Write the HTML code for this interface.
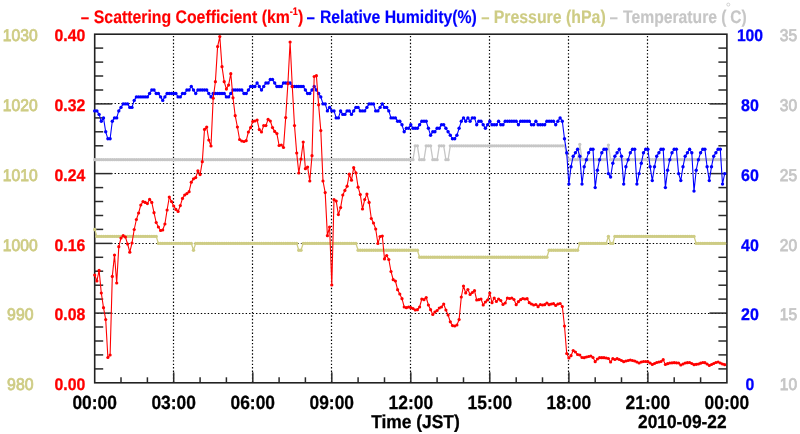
<!DOCTYPE html>
<html><head><meta charset="utf-8"><title>Chart</title>
<style>html,body{margin:0;padding:0;background:#fff;}body{width:800px;height:434px;overflow:hidden;position:relative;font-family:"Liberation Sans",sans-serif;}</style>
</head><body>
<svg width="800" height="434" viewBox="0 0 800 434" style="position:absolute;left:0;top:0;will-change:transform">
<rect x="0" y="0" width="800" height="434" fill="#fff"/>
<g stroke="#000" stroke-width="1.2" stroke-dasharray="1.4 2.05" fill="none"><line x1="173.5" y1="35.9" x2="173.5" y2="382.8"/><line x1="252.5" y1="35.9" x2="252.5" y2="382.8"/><line x1="331.5" y1="35.9" x2="331.5" y2="382.8"/><line x1="410.5" y1="35.9" x2="410.5" y2="382.8"/><line x1="489.5" y1="35.9" x2="489.5" y2="382.8"/><line x1="568.5" y1="35.9" x2="568.5" y2="382.8"/><line x1="647.5" y1="35.9" x2="647.5" y2="382.8"/><line x1="97.3" y1="313.5" x2="726.9" y2="313.5"/><line x1="97.3" y1="243.5" x2="726.9" y2="243.5"/><line x1="97.3" y1="173.5" x2="726.9" y2="173.5"/><line x1="97.3" y1="103.5" x2="726.9" y2="103.5"/></g>
<g stroke="#2a2a2a" stroke-width="1.5" fill="none"><line x1="121.0" y1="382.8" x2="121.0" y2="377.3"/><line x1="147.4" y1="382.8" x2="147.4" y2="377.3"/><line x1="173.7" y1="382.8" x2="173.7" y2="372.3"/><line x1="200.1" y1="382.8" x2="200.1" y2="377.3"/><line x1="226.4" y1="382.8" x2="226.4" y2="377.3"/><line x1="252.8" y1="382.8" x2="252.8" y2="372.3"/><line x1="279.1" y1="382.8" x2="279.1" y2="377.3"/><line x1="305.4" y1="382.8" x2="305.4" y2="377.3"/><line x1="331.8" y1="382.8" x2="331.8" y2="372.3"/><line x1="358.1" y1="382.8" x2="358.1" y2="377.3"/><line x1="384.5" y1="382.8" x2="384.5" y2="377.3"/><line x1="410.8" y1="382.8" x2="410.8" y2="372.3"/><line x1="437.1" y1="382.8" x2="437.1" y2="377.3"/><line x1="463.5" y1="382.8" x2="463.5" y2="377.3"/><line x1="489.8" y1="382.8" x2="489.8" y2="372.3"/><line x1="516.2" y1="382.8" x2="516.2" y2="377.3"/><line x1="542.5" y1="382.8" x2="542.5" y2="377.3"/><line x1="568.9" y1="382.8" x2="568.9" y2="372.3"/><line x1="595.2" y1="382.8" x2="595.2" y2="377.3"/><line x1="621.5" y1="382.8" x2="621.5" y2="377.3"/><line x1="647.9" y1="382.8" x2="647.9" y2="372.3"/><line x1="674.2" y1="382.8" x2="674.2" y2="377.3"/><line x1="700.6" y1="382.8" x2="700.6" y2="377.3"/><line x1="94.7" y1="368.9" x2="103.2" y2="368.9"/><line x1="726.9" y1="368.9" x2="718.4" y2="368.9"/><line x1="94.7" y1="354.9" x2="103.2" y2="354.9"/><line x1="726.9" y1="354.9" x2="718.4" y2="354.9"/><line x1="94.7" y1="341.0" x2="103.2" y2="341.0"/><line x1="726.9" y1="341.0" x2="718.4" y2="341.0"/><line x1="94.7" y1="327.0" x2="103.2" y2="327.0"/><line x1="726.9" y1="327.0" x2="718.4" y2="327.0"/><line x1="94.7" y1="313.1" x2="112.2" y2="313.1"/><line x1="726.9" y1="313.1" x2="709.4" y2="313.1"/><line x1="94.7" y1="299.1" x2="103.2" y2="299.1"/><line x1="726.9" y1="299.1" x2="718.4" y2="299.1"/><line x1="94.7" y1="285.2" x2="103.2" y2="285.2"/><line x1="726.9" y1="285.2" x2="718.4" y2="285.2"/><line x1="94.7" y1="271.2" x2="103.2" y2="271.2"/><line x1="726.9" y1="271.2" x2="718.4" y2="271.2"/><line x1="94.7" y1="257.3" x2="103.2" y2="257.3"/><line x1="726.9" y1="257.3" x2="718.4" y2="257.3"/><line x1="94.7" y1="243.4" x2="112.2" y2="243.4"/><line x1="726.9" y1="243.4" x2="709.4" y2="243.4"/><line x1="94.7" y1="229.4" x2="103.2" y2="229.4"/><line x1="726.9" y1="229.4" x2="718.4" y2="229.4"/><line x1="94.7" y1="215.5" x2="103.2" y2="215.5"/><line x1="726.9" y1="215.5" x2="718.4" y2="215.5"/><line x1="94.7" y1="201.5" x2="103.2" y2="201.5"/><line x1="726.9" y1="201.5" x2="718.4" y2="201.5"/><line x1="94.7" y1="187.6" x2="103.2" y2="187.6"/><line x1="726.9" y1="187.6" x2="718.4" y2="187.6"/><line x1="94.7" y1="173.6" x2="112.2" y2="173.6"/><line x1="726.9" y1="173.6" x2="709.4" y2="173.6"/><line x1="94.7" y1="159.7" x2="103.2" y2="159.7"/><line x1="726.9" y1="159.7" x2="718.4" y2="159.7"/><line x1="94.7" y1="145.8" x2="103.2" y2="145.8"/><line x1="726.9" y1="145.8" x2="718.4" y2="145.8"/><line x1="94.7" y1="131.8" x2="103.2" y2="131.8"/><line x1="726.9" y1="131.8" x2="718.4" y2="131.8"/><line x1="94.7" y1="117.9" x2="103.2" y2="117.9"/><line x1="726.9" y1="117.9" x2="718.4" y2="117.9"/><line x1="94.7" y1="103.9" x2="112.2" y2="103.9"/><line x1="726.9" y1="103.9" x2="709.4" y2="103.9"/><line x1="94.7" y1="90.0" x2="103.2" y2="90.0"/><line x1="726.9" y1="90.0" x2="718.4" y2="90.0"/><line x1="94.7" y1="76.0" x2="103.2" y2="76.0"/><line x1="726.9" y1="76.0" x2="718.4" y2="76.0"/><line x1="94.7" y1="62.1" x2="103.2" y2="62.1"/><line x1="726.9" y1="62.1" x2="718.4" y2="62.1"/><line x1="94.7" y1="48.1" x2="103.2" y2="48.1"/><line x1="726.9" y1="48.1" x2="718.4" y2="48.1"/></g>
<rect x="94.7" y="34.2" width="632.2" height="348.6" fill="none" stroke="#222" stroke-width="1.6"/>
<polyline points="94.7,159.7 96.9,159.7 99.1,159.7 101.3,159.7 103.5,159.7 105.7,159.7 107.9,159.7 110.1,159.7 112.3,159.7 114.5,159.7 116.7,159.7 118.8,159.7 121.0,159.7 123.2,159.7 125.4,159.7 127.6,159.7 129.8,159.7 132.0,159.7 134.2,159.7 136.4,159.7 138.6,159.7 140.8,159.7 143.0,159.7 145.2,159.7 147.4,159.7 149.6,159.7 151.8,159.7 154.0,159.7 156.2,159.7 158.4,159.7 160.6,159.7 162.7,159.7 164.9,159.7 167.1,159.7 169.3,159.7 171.5,159.7 173.7,159.7 175.9,159.7 178.1,159.7 180.3,159.7 182.5,159.7 184.7,159.7 186.9,159.7 189.1,159.7 191.3,159.7 193.5,159.7 195.7,159.7 197.9,159.7 200.1,159.7 202.3,159.7 204.5,159.7 206.7,159.7 208.8,159.7 211.0,159.7 213.2,159.7 215.4,159.7 217.6,159.7 219.8,159.7 222.0,159.7 224.2,159.7 226.4,159.7 228.6,159.7 230.8,159.7 233.0,159.7 235.2,159.7 237.4,159.7 239.6,159.7 241.8,159.7 244.0,159.7 246.2,159.7 248.4,159.7 250.6,159.7 252.8,159.7 254.9,159.7 257.1,159.7 259.3,159.7 261.5,159.7 263.7,159.7 265.9,159.7 268.1,159.7 270.3,159.7 272.5,159.7 274.7,159.7 276.9,159.7 279.1,159.7 281.3,159.7 283.5,159.7 285.7,159.7 287.9,159.7 290.1,159.7 292.3,159.7 294.5,159.7 296.7,159.7 298.8,159.7 301.0,159.7 303.2,159.7 305.4,159.7 307.6,159.7 309.8,159.7 312.0,159.7 314.2,159.7 316.4,159.7 318.6,159.7 320.8,159.7 323.0,159.7 325.2,159.7 327.4,159.7 329.6,159.7 331.8,159.7 334.0,159.7 336.2,159.7 338.4,159.7 340.6,159.7 342.8,159.7 344.9,159.7 347.1,159.7 349.3,159.7 351.5,159.7 353.7,159.7 355.9,159.7 358.1,159.7 360.3,159.7 362.5,159.7 364.7,159.7 366.9,159.7 369.1,159.7 371.3,159.7 373.5,159.7 375.7,159.7 377.9,159.7 380.1,159.7 382.3,159.7 384.5,159.7 386.7,159.7 388.8,159.7 391.0,159.7 393.2,159.7 395.4,159.7 397.6,159.7 399.8,159.7 402.0,159.7 404.2,159.7 406.4,159.7 408.6,159.7 410.8,159.7 413.0,159.7 415.2,145.8 417.4,145.8 419.6,159.7 421.8,159.7 424.0,159.7 426.2,145.8 428.4,145.8 430.6,145.8 432.8,159.7 434.9,159.7 437.1,159.7 439.3,145.8 441.5,145.8 443.7,145.8 445.9,159.7 448.1,159.7 450.3,145.8 452.5,145.8 454.7,145.8 456.9,145.8 459.1,145.8 461.3,145.8 463.5,145.8 465.7,145.8 467.9,145.8 470.1,145.8 472.3,145.8 474.5,145.8 476.7,145.8 478.8,145.8 481.0,145.8 483.2,145.8 485.4,145.8 487.6,145.8 489.8,145.8 492.0,145.8 494.2,145.8 496.4,145.8 498.6,145.8 500.8,145.8 503.0,145.8 505.2,145.8 507.4,145.8 509.6,145.8 511.8,145.8 514.0,145.8 516.2,145.8 518.4,145.8 520.6,145.8 522.8,145.8 524.9,145.8 527.1,145.8 529.3,145.8 531.5,145.8 533.7,145.8 535.9,145.8 538.1,145.8 540.3,145.8 542.5,145.8 544.7,145.8 546.9,145.8 549.1,145.8 551.3,145.8 553.5,145.8 555.7,145.8 557.9,145.8 560.1,145.8 562.3,145.8 564.5,145.8 566.7,154.1 568.9,159.7 571.0,159.7 573.2,159.7 575.4,159.7 577.6,159.7 579.8,144.4 582.0,159.7 584.2,159.7 586.4,159.7 588.6,159.7 590.8,159.7 593.0,159.7 595.2,159.7 597.4,159.7 599.6,159.7 601.8,159.7 604.0,159.7 606.2,159.7 608.4,145.1 610.6,159.7 612.8,159.7 614.9,159.7 617.1,159.7 619.3,159.7 621.5,159.7 623.7,159.7 625.9,159.7 628.1,159.7 630.3,159.7 632.5,159.7 634.7,159.7 636.9,159.7 639.1,159.7 641.3,159.7 643.5,159.7 645.7,159.7 647.9,159.7 650.1,159.7 652.3,159.7 654.5,159.7 656.7,159.7 658.9,159.7 661.0,159.7 663.2,159.7 665.4,159.7 667.6,159.7 669.8,159.7 672.0,159.7 674.2,159.7 676.4,159.7 678.6,159.7 680.8,159.7 683.0,159.7 685.2,159.7 687.4,159.7 689.6,159.7 691.8,159.7 694.0,159.7 696.2,159.7 698.4,159.7 700.6,159.7 702.8,159.7 704.9,159.7 707.1,159.7 709.3,159.7 711.5,159.7 713.7,159.7 715.9,159.7 718.1,159.7 720.3,159.7 722.5,159.7 724.7,159.7" fill="none" stroke="#c6c6c6" stroke-width="1.3" stroke-linejoin="round"/>
<g fill="#c6c6c6"><circle cx="94.7" cy="159.7" r="1.65"/><circle cx="96.9" cy="159.7" r="1.65"/><circle cx="99.1" cy="159.7" r="1.65"/><circle cx="101.3" cy="159.7" r="1.65"/><circle cx="103.5" cy="159.7" r="1.65"/><circle cx="105.7" cy="159.7" r="1.65"/><circle cx="107.9" cy="159.7" r="1.65"/><circle cx="110.1" cy="159.7" r="1.65"/><circle cx="112.3" cy="159.7" r="1.65"/><circle cx="114.5" cy="159.7" r="1.65"/><circle cx="116.7" cy="159.7" r="1.65"/><circle cx="118.8" cy="159.7" r="1.65"/><circle cx="121.0" cy="159.7" r="1.65"/><circle cx="123.2" cy="159.7" r="1.65"/><circle cx="125.4" cy="159.7" r="1.65"/><circle cx="127.6" cy="159.7" r="1.65"/><circle cx="129.8" cy="159.7" r="1.65"/><circle cx="132.0" cy="159.7" r="1.65"/><circle cx="134.2" cy="159.7" r="1.65"/><circle cx="136.4" cy="159.7" r="1.65"/><circle cx="138.6" cy="159.7" r="1.65"/><circle cx="140.8" cy="159.7" r="1.65"/><circle cx="143.0" cy="159.7" r="1.65"/><circle cx="145.2" cy="159.7" r="1.65"/><circle cx="147.4" cy="159.7" r="1.65"/><circle cx="149.6" cy="159.7" r="1.65"/><circle cx="151.8" cy="159.7" r="1.65"/><circle cx="154.0" cy="159.7" r="1.65"/><circle cx="156.2" cy="159.7" r="1.65"/><circle cx="158.4" cy="159.7" r="1.65"/><circle cx="160.6" cy="159.7" r="1.65"/><circle cx="162.7" cy="159.7" r="1.65"/><circle cx="164.9" cy="159.7" r="1.65"/><circle cx="167.1" cy="159.7" r="1.65"/><circle cx="169.3" cy="159.7" r="1.65"/><circle cx="171.5" cy="159.7" r="1.65"/><circle cx="173.7" cy="159.7" r="1.65"/><circle cx="175.9" cy="159.7" r="1.65"/><circle cx="178.1" cy="159.7" r="1.65"/><circle cx="180.3" cy="159.7" r="1.65"/><circle cx="182.5" cy="159.7" r="1.65"/><circle cx="184.7" cy="159.7" r="1.65"/><circle cx="186.9" cy="159.7" r="1.65"/><circle cx="189.1" cy="159.7" r="1.65"/><circle cx="191.3" cy="159.7" r="1.65"/><circle cx="193.5" cy="159.7" r="1.65"/><circle cx="195.7" cy="159.7" r="1.65"/><circle cx="197.9" cy="159.7" r="1.65"/><circle cx="200.1" cy="159.7" r="1.65"/><circle cx="202.3" cy="159.7" r="1.65"/><circle cx="204.5" cy="159.7" r="1.65"/><circle cx="206.7" cy="159.7" r="1.65"/><circle cx="208.8" cy="159.7" r="1.65"/><circle cx="211.0" cy="159.7" r="1.65"/><circle cx="213.2" cy="159.7" r="1.65"/><circle cx="215.4" cy="159.7" r="1.65"/><circle cx="217.6" cy="159.7" r="1.65"/><circle cx="219.8" cy="159.7" r="1.65"/><circle cx="222.0" cy="159.7" r="1.65"/><circle cx="224.2" cy="159.7" r="1.65"/><circle cx="226.4" cy="159.7" r="1.65"/><circle cx="228.6" cy="159.7" r="1.65"/><circle cx="230.8" cy="159.7" r="1.65"/><circle cx="233.0" cy="159.7" r="1.65"/><circle cx="235.2" cy="159.7" r="1.65"/><circle cx="237.4" cy="159.7" r="1.65"/><circle cx="239.6" cy="159.7" r="1.65"/><circle cx="241.8" cy="159.7" r="1.65"/><circle cx="244.0" cy="159.7" r="1.65"/><circle cx="246.2" cy="159.7" r="1.65"/><circle cx="248.4" cy="159.7" r="1.65"/><circle cx="250.6" cy="159.7" r="1.65"/><circle cx="252.8" cy="159.7" r="1.65"/><circle cx="254.9" cy="159.7" r="1.65"/><circle cx="257.1" cy="159.7" r="1.65"/><circle cx="259.3" cy="159.7" r="1.65"/><circle cx="261.5" cy="159.7" r="1.65"/><circle cx="263.7" cy="159.7" r="1.65"/><circle cx="265.9" cy="159.7" r="1.65"/><circle cx="268.1" cy="159.7" r="1.65"/><circle cx="270.3" cy="159.7" r="1.65"/><circle cx="272.5" cy="159.7" r="1.65"/><circle cx="274.7" cy="159.7" r="1.65"/><circle cx="276.9" cy="159.7" r="1.65"/><circle cx="279.1" cy="159.7" r="1.65"/><circle cx="281.3" cy="159.7" r="1.65"/><circle cx="283.5" cy="159.7" r="1.65"/><circle cx="285.7" cy="159.7" r="1.65"/><circle cx="287.9" cy="159.7" r="1.65"/><circle cx="290.1" cy="159.7" r="1.65"/><circle cx="292.3" cy="159.7" r="1.65"/><circle cx="294.5" cy="159.7" r="1.65"/><circle cx="296.7" cy="159.7" r="1.65"/><circle cx="298.8" cy="159.7" r="1.65"/><circle cx="301.0" cy="159.7" r="1.65"/><circle cx="303.2" cy="159.7" r="1.65"/><circle cx="305.4" cy="159.7" r="1.65"/><circle cx="307.6" cy="159.7" r="1.65"/><circle cx="309.8" cy="159.7" r="1.65"/><circle cx="312.0" cy="159.7" r="1.65"/><circle cx="314.2" cy="159.7" r="1.65"/><circle cx="316.4" cy="159.7" r="1.65"/><circle cx="318.6" cy="159.7" r="1.65"/><circle cx="320.8" cy="159.7" r="1.65"/><circle cx="323.0" cy="159.7" r="1.65"/><circle cx="325.2" cy="159.7" r="1.65"/><circle cx="327.4" cy="159.7" r="1.65"/><circle cx="329.6" cy="159.7" r="1.65"/><circle cx="331.8" cy="159.7" r="1.65"/><circle cx="334.0" cy="159.7" r="1.65"/><circle cx="336.2" cy="159.7" r="1.65"/><circle cx="338.4" cy="159.7" r="1.65"/><circle cx="340.6" cy="159.7" r="1.65"/><circle cx="342.8" cy="159.7" r="1.65"/><circle cx="344.9" cy="159.7" r="1.65"/><circle cx="347.1" cy="159.7" r="1.65"/><circle cx="349.3" cy="159.7" r="1.65"/><circle cx="351.5" cy="159.7" r="1.65"/><circle cx="353.7" cy="159.7" r="1.65"/><circle cx="355.9" cy="159.7" r="1.65"/><circle cx="358.1" cy="159.7" r="1.65"/><circle cx="360.3" cy="159.7" r="1.65"/><circle cx="362.5" cy="159.7" r="1.65"/><circle cx="364.7" cy="159.7" r="1.65"/><circle cx="366.9" cy="159.7" r="1.65"/><circle cx="369.1" cy="159.7" r="1.65"/><circle cx="371.3" cy="159.7" r="1.65"/><circle cx="373.5" cy="159.7" r="1.65"/><circle cx="375.7" cy="159.7" r="1.65"/><circle cx="377.9" cy="159.7" r="1.65"/><circle cx="380.1" cy="159.7" r="1.65"/><circle cx="382.3" cy="159.7" r="1.65"/><circle cx="384.5" cy="159.7" r="1.65"/><circle cx="386.7" cy="159.7" r="1.65"/><circle cx="388.8" cy="159.7" r="1.65"/><circle cx="391.0" cy="159.7" r="1.65"/><circle cx="393.2" cy="159.7" r="1.65"/><circle cx="395.4" cy="159.7" r="1.65"/><circle cx="397.6" cy="159.7" r="1.65"/><circle cx="399.8" cy="159.7" r="1.65"/><circle cx="402.0" cy="159.7" r="1.65"/><circle cx="404.2" cy="159.7" r="1.65"/><circle cx="406.4" cy="159.7" r="1.65"/><circle cx="408.6" cy="159.7" r="1.65"/><circle cx="410.8" cy="159.7" r="1.65"/><circle cx="413.0" cy="159.7" r="1.65"/><circle cx="415.2" cy="145.8" r="1.65"/><circle cx="417.4" cy="145.8" r="1.65"/><circle cx="419.6" cy="159.7" r="1.65"/><circle cx="421.8" cy="159.7" r="1.65"/><circle cx="424.0" cy="159.7" r="1.65"/><circle cx="426.2" cy="145.8" r="1.65"/><circle cx="428.4" cy="145.8" r="1.65"/><circle cx="430.6" cy="145.8" r="1.65"/><circle cx="432.8" cy="159.7" r="1.65"/><circle cx="434.9" cy="159.7" r="1.65"/><circle cx="437.1" cy="159.7" r="1.65"/><circle cx="439.3" cy="145.8" r="1.65"/><circle cx="441.5" cy="145.8" r="1.65"/><circle cx="443.7" cy="145.8" r="1.65"/><circle cx="445.9" cy="159.7" r="1.65"/><circle cx="448.1" cy="159.7" r="1.65"/><circle cx="450.3" cy="145.8" r="1.65"/><circle cx="452.5" cy="145.8" r="1.65"/><circle cx="454.7" cy="145.8" r="1.65"/><circle cx="456.9" cy="145.8" r="1.65"/><circle cx="459.1" cy="145.8" r="1.65"/><circle cx="461.3" cy="145.8" r="1.65"/><circle cx="463.5" cy="145.8" r="1.65"/><circle cx="465.7" cy="145.8" r="1.65"/><circle cx="467.9" cy="145.8" r="1.65"/><circle cx="470.1" cy="145.8" r="1.65"/><circle cx="472.3" cy="145.8" r="1.65"/><circle cx="474.5" cy="145.8" r="1.65"/><circle cx="476.7" cy="145.8" r="1.65"/><circle cx="478.8" cy="145.8" r="1.65"/><circle cx="481.0" cy="145.8" r="1.65"/><circle cx="483.2" cy="145.8" r="1.65"/><circle cx="485.4" cy="145.8" r="1.65"/><circle cx="487.6" cy="145.8" r="1.65"/><circle cx="489.8" cy="145.8" r="1.65"/><circle cx="492.0" cy="145.8" r="1.65"/><circle cx="494.2" cy="145.8" r="1.65"/><circle cx="496.4" cy="145.8" r="1.65"/><circle cx="498.6" cy="145.8" r="1.65"/><circle cx="500.8" cy="145.8" r="1.65"/><circle cx="503.0" cy="145.8" r="1.65"/><circle cx="505.2" cy="145.8" r="1.65"/><circle cx="507.4" cy="145.8" r="1.65"/><circle cx="509.6" cy="145.8" r="1.65"/><circle cx="511.8" cy="145.8" r="1.65"/><circle cx="514.0" cy="145.8" r="1.65"/><circle cx="516.2" cy="145.8" r="1.65"/><circle cx="518.4" cy="145.8" r="1.65"/><circle cx="520.6" cy="145.8" r="1.65"/><circle cx="522.8" cy="145.8" r="1.65"/><circle cx="524.9" cy="145.8" r="1.65"/><circle cx="527.1" cy="145.8" r="1.65"/><circle cx="529.3" cy="145.8" r="1.65"/><circle cx="531.5" cy="145.8" r="1.65"/><circle cx="533.7" cy="145.8" r="1.65"/><circle cx="535.9" cy="145.8" r="1.65"/><circle cx="538.1" cy="145.8" r="1.65"/><circle cx="540.3" cy="145.8" r="1.65"/><circle cx="542.5" cy="145.8" r="1.65"/><circle cx="544.7" cy="145.8" r="1.65"/><circle cx="546.9" cy="145.8" r="1.65"/><circle cx="549.1" cy="145.8" r="1.65"/><circle cx="551.3" cy="145.8" r="1.65"/><circle cx="553.5" cy="145.8" r="1.65"/><circle cx="555.7" cy="145.8" r="1.65"/><circle cx="557.9" cy="145.8" r="1.65"/><circle cx="560.1" cy="145.8" r="1.65"/><circle cx="562.3" cy="145.8" r="1.65"/><circle cx="564.5" cy="145.8" r="1.65"/><circle cx="566.7" cy="154.1" r="1.65"/><circle cx="568.9" cy="159.7" r="1.65"/><circle cx="571.0" cy="159.7" r="1.65"/><circle cx="573.2" cy="159.7" r="1.65"/><circle cx="575.4" cy="159.7" r="1.65"/><circle cx="577.6" cy="159.7" r="1.65"/><circle cx="579.8" cy="144.4" r="1.65"/><circle cx="582.0" cy="159.7" r="1.65"/><circle cx="584.2" cy="159.7" r="1.65"/><circle cx="586.4" cy="159.7" r="1.65"/><circle cx="588.6" cy="159.7" r="1.65"/><circle cx="590.8" cy="159.7" r="1.65"/><circle cx="593.0" cy="159.7" r="1.65"/><circle cx="595.2" cy="159.7" r="1.65"/><circle cx="597.4" cy="159.7" r="1.65"/><circle cx="599.6" cy="159.7" r="1.65"/><circle cx="601.8" cy="159.7" r="1.65"/><circle cx="604.0" cy="159.7" r="1.65"/><circle cx="606.2" cy="159.7" r="1.65"/><circle cx="608.4" cy="145.1" r="1.65"/><circle cx="610.6" cy="159.7" r="1.65"/><circle cx="612.8" cy="159.7" r="1.65"/><circle cx="614.9" cy="159.7" r="1.65"/><circle cx="617.1" cy="159.7" r="1.65"/><circle cx="619.3" cy="159.7" r="1.65"/><circle cx="621.5" cy="159.7" r="1.65"/><circle cx="623.7" cy="159.7" r="1.65"/><circle cx="625.9" cy="159.7" r="1.65"/><circle cx="628.1" cy="159.7" r="1.65"/><circle cx="630.3" cy="159.7" r="1.65"/><circle cx="632.5" cy="159.7" r="1.65"/><circle cx="634.7" cy="159.7" r="1.65"/><circle cx="636.9" cy="159.7" r="1.65"/><circle cx="639.1" cy="159.7" r="1.65"/><circle cx="641.3" cy="159.7" r="1.65"/><circle cx="643.5" cy="159.7" r="1.65"/><circle cx="645.7" cy="159.7" r="1.65"/><circle cx="647.9" cy="159.7" r="1.65"/><circle cx="650.1" cy="159.7" r="1.65"/><circle cx="652.3" cy="159.7" r="1.65"/><circle cx="654.5" cy="159.7" r="1.65"/><circle cx="656.7" cy="159.7" r="1.65"/><circle cx="658.9" cy="159.7" r="1.65"/><circle cx="661.0" cy="159.7" r="1.65"/><circle cx="663.2" cy="159.7" r="1.65"/><circle cx="665.4" cy="159.7" r="1.65"/><circle cx="667.6" cy="159.7" r="1.65"/><circle cx="669.8" cy="159.7" r="1.65"/><circle cx="672.0" cy="159.7" r="1.65"/><circle cx="674.2" cy="159.7" r="1.65"/><circle cx="676.4" cy="159.7" r="1.65"/><circle cx="678.6" cy="159.7" r="1.65"/><circle cx="680.8" cy="159.7" r="1.65"/><circle cx="683.0" cy="159.7" r="1.65"/><circle cx="685.2" cy="159.7" r="1.65"/><circle cx="687.4" cy="159.7" r="1.65"/><circle cx="689.6" cy="159.7" r="1.65"/><circle cx="691.8" cy="159.7" r="1.65"/><circle cx="694.0" cy="159.7" r="1.65"/><circle cx="696.2" cy="159.7" r="1.65"/><circle cx="698.4" cy="159.7" r="1.65"/><circle cx="700.6" cy="159.7" r="1.65"/><circle cx="702.8" cy="159.7" r="1.65"/><circle cx="704.9" cy="159.7" r="1.65"/><circle cx="707.1" cy="159.7" r="1.65"/><circle cx="709.3" cy="159.7" r="1.65"/><circle cx="711.5" cy="159.7" r="1.65"/><circle cx="713.7" cy="159.7" r="1.65"/><circle cx="715.9" cy="159.7" r="1.65"/><circle cx="718.1" cy="159.7" r="1.65"/><circle cx="720.3" cy="159.7" r="1.65"/><circle cx="722.5" cy="159.7" r="1.65"/><circle cx="724.7" cy="159.7" r="1.65"/></g>
<polyline points="94.7,229.4 96.9,236.4 99.1,236.4 101.3,236.4 103.5,236.4 105.7,236.4 107.9,236.4 110.1,236.4 112.3,236.4 114.5,236.4 116.7,236.4 118.8,236.4 121.0,236.4 123.2,236.4 125.4,236.4 127.6,236.4 129.8,236.4 132.0,236.4 134.2,236.4 136.4,236.4 138.6,236.4 140.8,236.4 143.0,236.4 145.2,236.4 147.4,236.4 149.6,236.4 151.8,236.4 154.0,236.4 156.2,236.4 158.4,243.4 160.6,243.4 162.7,243.4 164.9,243.4 167.1,243.4 169.3,243.4 171.5,243.4 173.7,243.4 175.9,243.4 178.1,243.4 180.3,243.4 182.5,243.4 184.7,243.4 186.9,243.4 189.1,243.4 191.3,243.4 193.5,250.3 195.7,243.4 197.9,243.4 200.1,243.4 202.3,243.4 204.5,243.4 206.7,243.4 208.8,243.4 211.0,243.4 213.2,243.4 215.4,243.4 217.6,243.4 219.8,243.4 222.0,243.4 224.2,243.4 226.4,243.4 228.6,243.4 230.8,243.4 233.0,243.4 235.2,243.4 237.4,243.4 239.6,243.4 241.8,243.4 244.0,243.4 246.2,243.4 248.4,243.4 250.6,243.4 252.8,243.4 254.9,243.4 257.1,243.4 259.3,243.4 261.5,243.4 263.7,243.4 265.9,243.4 268.1,243.4 270.3,243.4 272.5,243.4 274.7,243.4 276.9,243.4 279.1,243.4 281.3,243.4 283.5,243.4 285.7,243.4 287.9,243.4 290.1,243.4 292.3,243.4 294.5,243.4 296.7,243.4 298.8,250.3 301.0,250.3 303.2,243.4 305.4,243.4 307.6,243.4 309.8,243.4 312.0,243.4 314.2,243.4 316.4,243.4 318.6,243.4 320.8,243.4 323.0,243.4 325.2,243.4 327.4,243.4 329.6,243.4 331.8,243.4 334.0,243.4 336.2,243.4 338.4,243.4 340.6,243.4 342.8,243.4 344.9,243.4 347.1,243.4 349.3,243.4 351.5,243.4 353.7,243.4 355.9,243.4 358.1,250.3 360.3,250.3 362.5,250.3 364.7,250.3 366.9,250.3 369.1,250.3 371.3,250.3 373.5,250.3 375.7,250.3 377.9,250.3 380.1,250.3 382.3,250.3 384.5,250.3 386.7,250.3 388.8,250.3 391.0,250.3 393.2,250.3 395.4,250.3 397.6,250.3 399.8,250.3 402.0,250.3 404.2,250.3 406.4,250.3 408.6,250.3 410.8,250.3 413.0,250.3 415.2,250.3 417.4,250.3 419.6,257.3 421.8,257.3 424.0,257.3 426.2,257.3 428.4,257.3 430.6,257.3 432.8,257.3 434.9,257.3 437.1,257.3 439.3,257.3 441.5,257.3 443.7,257.3 445.9,257.3 448.1,257.3 450.3,257.3 452.5,257.3 454.7,257.3 456.9,257.3 459.1,257.3 461.3,257.3 463.5,257.3 465.7,257.3 467.9,257.3 470.1,257.3 472.3,257.3 474.5,257.3 476.7,257.3 478.8,257.3 481.0,257.3 483.2,257.3 485.4,257.3 487.6,257.3 489.8,257.3 492.0,257.3 494.2,257.3 496.4,257.3 498.6,257.3 500.8,257.3 503.0,257.3 505.2,257.3 507.4,257.3 509.6,257.3 511.8,257.3 514.0,257.3 516.2,257.3 518.4,257.3 520.6,257.3 522.8,257.3 524.9,257.3 527.1,257.3 529.3,257.3 531.5,257.3 533.7,257.3 535.9,257.3 538.1,257.3 540.3,257.3 542.5,257.3 544.7,257.3 546.9,257.3 549.1,250.3 551.3,250.3 553.5,250.3 555.7,250.3 557.9,250.3 560.1,250.3 562.3,250.3 564.5,250.3 566.7,250.3 568.9,250.3 571.0,250.3 573.2,250.3 575.4,250.3 577.6,250.3 579.8,243.4 582.0,243.4 584.2,243.4 586.4,243.4 588.6,243.4 590.8,243.4 593.0,243.4 595.2,243.4 597.4,243.4 599.6,243.4 601.8,243.4 604.0,243.4 606.2,243.4 608.4,236.4 610.6,243.4 612.8,243.4 614.9,236.4 617.1,236.4 619.3,236.4 621.5,236.4 623.7,236.4 625.9,236.4 628.1,236.4 630.3,236.4 632.5,236.4 634.7,236.4 636.9,236.4 639.1,236.4 641.3,236.4 643.5,236.4 645.7,236.4 647.9,236.4 650.1,236.4 652.3,236.4 654.5,236.4 656.7,236.4 658.9,236.4 661.0,236.4 663.2,236.4 665.4,236.4 667.6,236.4 669.8,236.4 672.0,236.4 674.2,236.4 676.4,236.4 678.6,236.4 680.8,236.4 683.0,236.4 685.2,236.4 687.4,236.4 689.6,236.4 691.8,236.4 694.0,236.4 696.2,243.4 698.4,243.4 700.6,243.4 702.8,243.4 704.9,243.4 707.1,243.4 709.3,243.4 711.5,243.4 713.7,243.4 715.9,243.4 718.1,243.4 720.3,243.4 722.5,243.4 724.7,243.4" fill="none" stroke="#cecc84" stroke-width="1.3" stroke-linejoin="round"/>
<g fill="#cecc84"><circle cx="94.7" cy="229.4" r="1.7"/><circle cx="96.9" cy="236.4" r="1.7"/><circle cx="99.1" cy="236.4" r="1.7"/><circle cx="101.3" cy="236.4" r="1.7"/><circle cx="103.5" cy="236.4" r="1.7"/><circle cx="105.7" cy="236.4" r="1.7"/><circle cx="107.9" cy="236.4" r="1.7"/><circle cx="110.1" cy="236.4" r="1.7"/><circle cx="112.3" cy="236.4" r="1.7"/><circle cx="114.5" cy="236.4" r="1.7"/><circle cx="116.7" cy="236.4" r="1.7"/><circle cx="118.8" cy="236.4" r="1.7"/><circle cx="121.0" cy="236.4" r="1.7"/><circle cx="123.2" cy="236.4" r="1.7"/><circle cx="125.4" cy="236.4" r="1.7"/><circle cx="127.6" cy="236.4" r="1.7"/><circle cx="129.8" cy="236.4" r="1.7"/><circle cx="132.0" cy="236.4" r="1.7"/><circle cx="134.2" cy="236.4" r="1.7"/><circle cx="136.4" cy="236.4" r="1.7"/><circle cx="138.6" cy="236.4" r="1.7"/><circle cx="140.8" cy="236.4" r="1.7"/><circle cx="143.0" cy="236.4" r="1.7"/><circle cx="145.2" cy="236.4" r="1.7"/><circle cx="147.4" cy="236.4" r="1.7"/><circle cx="149.6" cy="236.4" r="1.7"/><circle cx="151.8" cy="236.4" r="1.7"/><circle cx="154.0" cy="236.4" r="1.7"/><circle cx="156.2" cy="236.4" r="1.7"/><circle cx="158.4" cy="243.4" r="1.7"/><circle cx="160.6" cy="243.4" r="1.7"/><circle cx="162.7" cy="243.4" r="1.7"/><circle cx="164.9" cy="243.4" r="1.7"/><circle cx="167.1" cy="243.4" r="1.7"/><circle cx="169.3" cy="243.4" r="1.7"/><circle cx="171.5" cy="243.4" r="1.7"/><circle cx="173.7" cy="243.4" r="1.7"/><circle cx="175.9" cy="243.4" r="1.7"/><circle cx="178.1" cy="243.4" r="1.7"/><circle cx="180.3" cy="243.4" r="1.7"/><circle cx="182.5" cy="243.4" r="1.7"/><circle cx="184.7" cy="243.4" r="1.7"/><circle cx="186.9" cy="243.4" r="1.7"/><circle cx="189.1" cy="243.4" r="1.7"/><circle cx="191.3" cy="243.4" r="1.7"/><circle cx="193.5" cy="250.3" r="1.7"/><circle cx="195.7" cy="243.4" r="1.7"/><circle cx="197.9" cy="243.4" r="1.7"/><circle cx="200.1" cy="243.4" r="1.7"/><circle cx="202.3" cy="243.4" r="1.7"/><circle cx="204.5" cy="243.4" r="1.7"/><circle cx="206.7" cy="243.4" r="1.7"/><circle cx="208.8" cy="243.4" r="1.7"/><circle cx="211.0" cy="243.4" r="1.7"/><circle cx="213.2" cy="243.4" r="1.7"/><circle cx="215.4" cy="243.4" r="1.7"/><circle cx="217.6" cy="243.4" r="1.7"/><circle cx="219.8" cy="243.4" r="1.7"/><circle cx="222.0" cy="243.4" r="1.7"/><circle cx="224.2" cy="243.4" r="1.7"/><circle cx="226.4" cy="243.4" r="1.7"/><circle cx="228.6" cy="243.4" r="1.7"/><circle cx="230.8" cy="243.4" r="1.7"/><circle cx="233.0" cy="243.4" r="1.7"/><circle cx="235.2" cy="243.4" r="1.7"/><circle cx="237.4" cy="243.4" r="1.7"/><circle cx="239.6" cy="243.4" r="1.7"/><circle cx="241.8" cy="243.4" r="1.7"/><circle cx="244.0" cy="243.4" r="1.7"/><circle cx="246.2" cy="243.4" r="1.7"/><circle cx="248.4" cy="243.4" r="1.7"/><circle cx="250.6" cy="243.4" r="1.7"/><circle cx="252.8" cy="243.4" r="1.7"/><circle cx="254.9" cy="243.4" r="1.7"/><circle cx="257.1" cy="243.4" r="1.7"/><circle cx="259.3" cy="243.4" r="1.7"/><circle cx="261.5" cy="243.4" r="1.7"/><circle cx="263.7" cy="243.4" r="1.7"/><circle cx="265.9" cy="243.4" r="1.7"/><circle cx="268.1" cy="243.4" r="1.7"/><circle cx="270.3" cy="243.4" r="1.7"/><circle cx="272.5" cy="243.4" r="1.7"/><circle cx="274.7" cy="243.4" r="1.7"/><circle cx="276.9" cy="243.4" r="1.7"/><circle cx="279.1" cy="243.4" r="1.7"/><circle cx="281.3" cy="243.4" r="1.7"/><circle cx="283.5" cy="243.4" r="1.7"/><circle cx="285.7" cy="243.4" r="1.7"/><circle cx="287.9" cy="243.4" r="1.7"/><circle cx="290.1" cy="243.4" r="1.7"/><circle cx="292.3" cy="243.4" r="1.7"/><circle cx="294.5" cy="243.4" r="1.7"/><circle cx="296.7" cy="243.4" r="1.7"/><circle cx="298.8" cy="250.3" r="1.7"/><circle cx="301.0" cy="250.3" r="1.7"/><circle cx="303.2" cy="243.4" r="1.7"/><circle cx="305.4" cy="243.4" r="1.7"/><circle cx="307.6" cy="243.4" r="1.7"/><circle cx="309.8" cy="243.4" r="1.7"/><circle cx="312.0" cy="243.4" r="1.7"/><circle cx="314.2" cy="243.4" r="1.7"/><circle cx="316.4" cy="243.4" r="1.7"/><circle cx="318.6" cy="243.4" r="1.7"/><circle cx="320.8" cy="243.4" r="1.7"/><circle cx="323.0" cy="243.4" r="1.7"/><circle cx="325.2" cy="243.4" r="1.7"/><circle cx="327.4" cy="243.4" r="1.7"/><circle cx="329.6" cy="243.4" r="1.7"/><circle cx="331.8" cy="243.4" r="1.7"/><circle cx="334.0" cy="243.4" r="1.7"/><circle cx="336.2" cy="243.4" r="1.7"/><circle cx="338.4" cy="243.4" r="1.7"/><circle cx="340.6" cy="243.4" r="1.7"/><circle cx="342.8" cy="243.4" r="1.7"/><circle cx="344.9" cy="243.4" r="1.7"/><circle cx="347.1" cy="243.4" r="1.7"/><circle cx="349.3" cy="243.4" r="1.7"/><circle cx="351.5" cy="243.4" r="1.7"/><circle cx="353.7" cy="243.4" r="1.7"/><circle cx="355.9" cy="243.4" r="1.7"/><circle cx="358.1" cy="250.3" r="1.7"/><circle cx="360.3" cy="250.3" r="1.7"/><circle cx="362.5" cy="250.3" r="1.7"/><circle cx="364.7" cy="250.3" r="1.7"/><circle cx="366.9" cy="250.3" r="1.7"/><circle cx="369.1" cy="250.3" r="1.7"/><circle cx="371.3" cy="250.3" r="1.7"/><circle cx="373.5" cy="250.3" r="1.7"/><circle cx="375.7" cy="250.3" r="1.7"/><circle cx="377.9" cy="250.3" r="1.7"/><circle cx="380.1" cy="250.3" r="1.7"/><circle cx="382.3" cy="250.3" r="1.7"/><circle cx="384.5" cy="250.3" r="1.7"/><circle cx="386.7" cy="250.3" r="1.7"/><circle cx="388.8" cy="250.3" r="1.7"/><circle cx="391.0" cy="250.3" r="1.7"/><circle cx="393.2" cy="250.3" r="1.7"/><circle cx="395.4" cy="250.3" r="1.7"/><circle cx="397.6" cy="250.3" r="1.7"/><circle cx="399.8" cy="250.3" r="1.7"/><circle cx="402.0" cy="250.3" r="1.7"/><circle cx="404.2" cy="250.3" r="1.7"/><circle cx="406.4" cy="250.3" r="1.7"/><circle cx="408.6" cy="250.3" r="1.7"/><circle cx="410.8" cy="250.3" r="1.7"/><circle cx="413.0" cy="250.3" r="1.7"/><circle cx="415.2" cy="250.3" r="1.7"/><circle cx="417.4" cy="250.3" r="1.7"/><circle cx="419.6" cy="257.3" r="1.7"/><circle cx="421.8" cy="257.3" r="1.7"/><circle cx="424.0" cy="257.3" r="1.7"/><circle cx="426.2" cy="257.3" r="1.7"/><circle cx="428.4" cy="257.3" r="1.7"/><circle cx="430.6" cy="257.3" r="1.7"/><circle cx="432.8" cy="257.3" r="1.7"/><circle cx="434.9" cy="257.3" r="1.7"/><circle cx="437.1" cy="257.3" r="1.7"/><circle cx="439.3" cy="257.3" r="1.7"/><circle cx="441.5" cy="257.3" r="1.7"/><circle cx="443.7" cy="257.3" r="1.7"/><circle cx="445.9" cy="257.3" r="1.7"/><circle cx="448.1" cy="257.3" r="1.7"/><circle cx="450.3" cy="257.3" r="1.7"/><circle cx="452.5" cy="257.3" r="1.7"/><circle cx="454.7" cy="257.3" r="1.7"/><circle cx="456.9" cy="257.3" r="1.7"/><circle cx="459.1" cy="257.3" r="1.7"/><circle cx="461.3" cy="257.3" r="1.7"/><circle cx="463.5" cy="257.3" r="1.7"/><circle cx="465.7" cy="257.3" r="1.7"/><circle cx="467.9" cy="257.3" r="1.7"/><circle cx="470.1" cy="257.3" r="1.7"/><circle cx="472.3" cy="257.3" r="1.7"/><circle cx="474.5" cy="257.3" r="1.7"/><circle cx="476.7" cy="257.3" r="1.7"/><circle cx="478.8" cy="257.3" r="1.7"/><circle cx="481.0" cy="257.3" r="1.7"/><circle cx="483.2" cy="257.3" r="1.7"/><circle cx="485.4" cy="257.3" r="1.7"/><circle cx="487.6" cy="257.3" r="1.7"/><circle cx="489.8" cy="257.3" r="1.7"/><circle cx="492.0" cy="257.3" r="1.7"/><circle cx="494.2" cy="257.3" r="1.7"/><circle cx="496.4" cy="257.3" r="1.7"/><circle cx="498.6" cy="257.3" r="1.7"/><circle cx="500.8" cy="257.3" r="1.7"/><circle cx="503.0" cy="257.3" r="1.7"/><circle cx="505.2" cy="257.3" r="1.7"/><circle cx="507.4" cy="257.3" r="1.7"/><circle cx="509.6" cy="257.3" r="1.7"/><circle cx="511.8" cy="257.3" r="1.7"/><circle cx="514.0" cy="257.3" r="1.7"/><circle cx="516.2" cy="257.3" r="1.7"/><circle cx="518.4" cy="257.3" r="1.7"/><circle cx="520.6" cy="257.3" r="1.7"/><circle cx="522.8" cy="257.3" r="1.7"/><circle cx="524.9" cy="257.3" r="1.7"/><circle cx="527.1" cy="257.3" r="1.7"/><circle cx="529.3" cy="257.3" r="1.7"/><circle cx="531.5" cy="257.3" r="1.7"/><circle cx="533.7" cy="257.3" r="1.7"/><circle cx="535.9" cy="257.3" r="1.7"/><circle cx="538.1" cy="257.3" r="1.7"/><circle cx="540.3" cy="257.3" r="1.7"/><circle cx="542.5" cy="257.3" r="1.7"/><circle cx="544.7" cy="257.3" r="1.7"/><circle cx="546.9" cy="257.3" r="1.7"/><circle cx="549.1" cy="250.3" r="1.7"/><circle cx="551.3" cy="250.3" r="1.7"/><circle cx="553.5" cy="250.3" r="1.7"/><circle cx="555.7" cy="250.3" r="1.7"/><circle cx="557.9" cy="250.3" r="1.7"/><circle cx="560.1" cy="250.3" r="1.7"/><circle cx="562.3" cy="250.3" r="1.7"/><circle cx="564.5" cy="250.3" r="1.7"/><circle cx="566.7" cy="250.3" r="1.7"/><circle cx="568.9" cy="250.3" r="1.7"/><circle cx="571.0" cy="250.3" r="1.7"/><circle cx="573.2" cy="250.3" r="1.7"/><circle cx="575.4" cy="250.3" r="1.7"/><circle cx="577.6" cy="250.3" r="1.7"/><circle cx="579.8" cy="243.4" r="1.7"/><circle cx="582.0" cy="243.4" r="1.7"/><circle cx="584.2" cy="243.4" r="1.7"/><circle cx="586.4" cy="243.4" r="1.7"/><circle cx="588.6" cy="243.4" r="1.7"/><circle cx="590.8" cy="243.4" r="1.7"/><circle cx="593.0" cy="243.4" r="1.7"/><circle cx="595.2" cy="243.4" r="1.7"/><circle cx="597.4" cy="243.4" r="1.7"/><circle cx="599.6" cy="243.4" r="1.7"/><circle cx="601.8" cy="243.4" r="1.7"/><circle cx="604.0" cy="243.4" r="1.7"/><circle cx="606.2" cy="243.4" r="1.7"/><circle cx="608.4" cy="236.4" r="1.7"/><circle cx="610.6" cy="243.4" r="1.7"/><circle cx="612.8" cy="243.4" r="1.7"/><circle cx="614.9" cy="236.4" r="1.7"/><circle cx="617.1" cy="236.4" r="1.7"/><circle cx="619.3" cy="236.4" r="1.7"/><circle cx="621.5" cy="236.4" r="1.7"/><circle cx="623.7" cy="236.4" r="1.7"/><circle cx="625.9" cy="236.4" r="1.7"/><circle cx="628.1" cy="236.4" r="1.7"/><circle cx="630.3" cy="236.4" r="1.7"/><circle cx="632.5" cy="236.4" r="1.7"/><circle cx="634.7" cy="236.4" r="1.7"/><circle cx="636.9" cy="236.4" r="1.7"/><circle cx="639.1" cy="236.4" r="1.7"/><circle cx="641.3" cy="236.4" r="1.7"/><circle cx="643.5" cy="236.4" r="1.7"/><circle cx="645.7" cy="236.4" r="1.7"/><circle cx="647.9" cy="236.4" r="1.7"/><circle cx="650.1" cy="236.4" r="1.7"/><circle cx="652.3" cy="236.4" r="1.7"/><circle cx="654.5" cy="236.4" r="1.7"/><circle cx="656.7" cy="236.4" r="1.7"/><circle cx="658.9" cy="236.4" r="1.7"/><circle cx="661.0" cy="236.4" r="1.7"/><circle cx="663.2" cy="236.4" r="1.7"/><circle cx="665.4" cy="236.4" r="1.7"/><circle cx="667.6" cy="236.4" r="1.7"/><circle cx="669.8" cy="236.4" r="1.7"/><circle cx="672.0" cy="236.4" r="1.7"/><circle cx="674.2" cy="236.4" r="1.7"/><circle cx="676.4" cy="236.4" r="1.7"/><circle cx="678.6" cy="236.4" r="1.7"/><circle cx="680.8" cy="236.4" r="1.7"/><circle cx="683.0" cy="236.4" r="1.7"/><circle cx="685.2" cy="236.4" r="1.7"/><circle cx="687.4" cy="236.4" r="1.7"/><circle cx="689.6" cy="236.4" r="1.7"/><circle cx="691.8" cy="236.4" r="1.7"/><circle cx="694.0" cy="236.4" r="1.7"/><circle cx="696.2" cy="243.4" r="1.7"/><circle cx="698.4" cy="243.4" r="1.7"/><circle cx="700.6" cy="243.4" r="1.7"/><circle cx="702.8" cy="243.4" r="1.7"/><circle cx="704.9" cy="243.4" r="1.7"/><circle cx="707.1" cy="243.4" r="1.7"/><circle cx="709.3" cy="243.4" r="1.7"/><circle cx="711.5" cy="243.4" r="1.7"/><circle cx="713.7" cy="243.4" r="1.7"/><circle cx="715.9" cy="243.4" r="1.7"/><circle cx="718.1" cy="243.4" r="1.7"/><circle cx="720.3" cy="243.4" r="1.7"/><circle cx="722.5" cy="243.4" r="1.7"/><circle cx="724.7" cy="243.4" r="1.7"/></g>
<polyline points="94.7,110.9 96.9,110.9 99.1,114.4 101.3,121.3 103.5,117.9 105.7,131.8 107.9,138.8 110.1,138.8 112.3,121.3 114.5,117.9 116.7,117.9 118.8,110.9 121.0,107.4 123.2,103.9 125.4,103.9 127.6,103.9 129.8,107.4 132.0,107.4 134.2,100.4 136.4,96.9 138.6,96.9 140.8,96.9 143.0,96.9 145.2,96.9 147.4,96.9 149.6,93.5 151.8,90.0 154.0,90.0 156.2,93.5 158.4,93.5 160.6,96.9 162.7,100.4 164.9,96.9 167.1,93.5 169.3,93.5 171.5,93.5 173.7,93.5 175.9,93.5 178.1,96.9 180.3,96.9 182.5,93.5 184.7,93.5 186.9,90.0 189.1,90.0 191.3,86.5 193.5,90.0 195.7,93.5 197.9,90.0 200.1,90.0 202.3,90.0 204.5,90.0 206.7,90.0 208.8,93.5 211.0,96.9 213.2,93.5 215.4,93.5 217.6,93.5 219.8,93.5 222.0,93.5 224.2,93.5 226.4,96.9 228.6,96.9 230.8,93.5 233.0,90.0 235.2,90.0 237.4,90.0 239.6,90.0 241.8,90.0 244.0,93.5 246.2,93.5 248.4,90.0 250.6,86.5 252.8,86.5 254.9,86.5 257.1,83.0 259.3,86.5 261.5,90.0 263.7,86.5 265.9,83.0 268.1,83.0 270.3,79.5 272.5,79.5 274.7,83.0 276.9,86.5 279.1,86.5 281.3,86.5 283.5,83.0 285.7,83.0 287.9,83.0 290.1,83.0 292.3,86.5 294.5,86.5 296.7,86.5 298.8,86.5 301.0,86.5 303.2,86.5 305.4,90.0 307.6,93.5 309.8,93.5 312.0,90.0 314.2,86.5 316.4,90.0 318.6,93.5 320.8,96.9 323.0,103.9 325.2,103.9 327.4,110.9 329.6,107.4 331.8,110.9 334.0,110.9 336.2,117.9 338.4,117.9 340.6,110.9 342.8,114.4 344.9,114.4 347.1,110.9 349.3,110.9 351.5,114.4 353.7,110.9 355.9,107.4 358.1,107.4 360.3,110.9 362.5,110.9 364.7,110.9 366.9,107.4 369.1,103.9 371.3,103.9 373.5,103.9 375.7,110.9 377.9,110.9 380.1,107.4 382.3,103.9 384.5,107.4 386.7,107.4 388.8,110.9 391.0,117.9 393.2,117.9 395.4,117.9 397.6,121.3 399.8,121.3 402.0,124.8 404.2,131.8 406.4,128.3 408.6,128.3 410.8,124.8 413.0,128.3 415.2,128.3 417.4,128.3 419.6,124.8 421.8,121.3 424.0,121.3 426.2,121.3 428.4,128.3 430.6,135.3 432.8,131.8 434.9,131.8 437.1,128.3 439.3,128.3 441.5,124.8 443.7,124.8 445.9,128.3 448.1,131.8 450.3,135.3 452.5,138.8 454.7,138.8 456.9,135.3 459.1,128.3 461.3,121.3 463.5,117.9 465.7,121.3 467.9,117.9 470.1,121.3 472.3,117.9 474.5,117.9 476.7,124.8 478.8,121.3 481.0,121.3 483.2,124.8 485.4,128.3 487.6,124.8 489.8,121.3 492.0,124.8 494.2,124.8 496.4,124.8 498.6,121.3 500.8,124.8 503.0,124.8 505.2,121.3 507.4,121.3 509.6,121.3 511.8,121.3 514.0,121.3 516.2,121.3 518.4,124.8 520.6,121.3 522.8,121.3 524.9,121.3 527.1,121.3 529.3,121.3 531.5,124.8 533.7,124.8 535.9,121.3 538.1,124.8 540.3,124.8 542.5,124.8 544.7,124.8 546.9,121.3 549.1,121.3 551.3,121.3 553.5,121.3 555.7,124.8 557.9,121.3 560.1,117.9 562.3,121.3 564.5,138.8 566.7,152.7 568.9,184.1 571.0,166.7 573.2,156.2 575.4,152.7 577.6,149.2 579.8,156.2 582.0,184.1 584.2,166.7 586.4,159.7 588.6,152.7 590.8,149.2 593.0,149.2 595.2,187.6 597.4,170.2 599.6,159.7 601.8,152.7 604.0,149.2 606.2,149.2 608.4,173.6 610.6,177.1 612.8,163.2 614.9,156.2 617.1,152.7 619.3,149.2 621.5,156.2 623.7,184.1 625.9,166.7 628.1,159.7 630.3,152.7 632.5,149.2 634.7,149.2 636.9,184.1 639.1,173.6 641.3,163.2 643.5,152.7 645.7,149.2 647.9,149.2 650.1,166.7 652.3,180.6 654.5,166.7 656.7,156.2 658.9,152.7 661.0,149.2 663.2,149.2 665.4,187.6 667.6,170.2 669.8,159.7 672.0,152.7 674.2,149.2 676.4,149.2 678.6,173.6 680.8,180.6 683.0,166.7 685.2,156.2 687.4,152.7 689.6,149.2 691.8,152.7 694.0,191.1 696.2,170.2 698.4,159.7 700.6,152.7 702.8,149.2 704.9,149.2 707.1,166.7 709.3,180.6 711.5,166.7 713.7,156.2 715.9,152.7 718.1,149.2 720.3,149.2 722.5,184.1 724.7,173.6" fill="none" stroke="#0000ff" stroke-width="1.1" stroke-linejoin="round"/>
<g fill="#0000ff"><circle cx="94.7" cy="110.9" r="1.7"/><circle cx="96.9" cy="110.9" r="1.7"/><circle cx="99.1" cy="114.4" r="1.7"/><circle cx="101.3" cy="121.3" r="1.7"/><circle cx="103.5" cy="117.9" r="1.7"/><circle cx="105.7" cy="131.8" r="1.7"/><circle cx="107.9" cy="138.8" r="1.7"/><circle cx="110.1" cy="138.8" r="1.7"/><circle cx="112.3" cy="121.3" r="1.7"/><circle cx="114.5" cy="117.9" r="1.7"/><circle cx="116.7" cy="117.9" r="1.7"/><circle cx="118.8" cy="110.9" r="1.7"/><circle cx="121.0" cy="107.4" r="1.7"/><circle cx="123.2" cy="103.9" r="1.7"/><circle cx="125.4" cy="103.9" r="1.7"/><circle cx="127.6" cy="103.9" r="1.7"/><circle cx="129.8" cy="107.4" r="1.7"/><circle cx="132.0" cy="107.4" r="1.7"/><circle cx="134.2" cy="100.4" r="1.7"/><circle cx="136.4" cy="96.9" r="1.7"/><circle cx="138.6" cy="96.9" r="1.7"/><circle cx="140.8" cy="96.9" r="1.7"/><circle cx="143.0" cy="96.9" r="1.7"/><circle cx="145.2" cy="96.9" r="1.7"/><circle cx="147.4" cy="96.9" r="1.7"/><circle cx="149.6" cy="93.5" r="1.7"/><circle cx="151.8" cy="90.0" r="1.7"/><circle cx="154.0" cy="90.0" r="1.7"/><circle cx="156.2" cy="93.5" r="1.7"/><circle cx="158.4" cy="93.5" r="1.7"/><circle cx="160.6" cy="96.9" r="1.7"/><circle cx="162.7" cy="100.4" r="1.7"/><circle cx="164.9" cy="96.9" r="1.7"/><circle cx="167.1" cy="93.5" r="1.7"/><circle cx="169.3" cy="93.5" r="1.7"/><circle cx="171.5" cy="93.5" r="1.7"/><circle cx="173.7" cy="93.5" r="1.7"/><circle cx="175.9" cy="93.5" r="1.7"/><circle cx="178.1" cy="96.9" r="1.7"/><circle cx="180.3" cy="96.9" r="1.7"/><circle cx="182.5" cy="93.5" r="1.7"/><circle cx="184.7" cy="93.5" r="1.7"/><circle cx="186.9" cy="90.0" r="1.7"/><circle cx="189.1" cy="90.0" r="1.7"/><circle cx="191.3" cy="86.5" r="1.7"/><circle cx="193.5" cy="90.0" r="1.7"/><circle cx="195.7" cy="93.5" r="1.7"/><circle cx="197.9" cy="90.0" r="1.7"/><circle cx="200.1" cy="90.0" r="1.7"/><circle cx="202.3" cy="90.0" r="1.7"/><circle cx="204.5" cy="90.0" r="1.7"/><circle cx="206.7" cy="90.0" r="1.7"/><circle cx="208.8" cy="93.5" r="1.7"/><circle cx="211.0" cy="96.9" r="1.7"/><circle cx="213.2" cy="93.5" r="1.7"/><circle cx="215.4" cy="93.5" r="1.7"/><circle cx="217.6" cy="93.5" r="1.7"/><circle cx="219.8" cy="93.5" r="1.7"/><circle cx="222.0" cy="93.5" r="1.7"/><circle cx="224.2" cy="93.5" r="1.7"/><circle cx="226.4" cy="96.9" r="1.7"/><circle cx="228.6" cy="96.9" r="1.7"/><circle cx="230.8" cy="93.5" r="1.7"/><circle cx="233.0" cy="90.0" r="1.7"/><circle cx="235.2" cy="90.0" r="1.7"/><circle cx="237.4" cy="90.0" r="1.7"/><circle cx="239.6" cy="90.0" r="1.7"/><circle cx="241.8" cy="90.0" r="1.7"/><circle cx="244.0" cy="93.5" r="1.7"/><circle cx="246.2" cy="93.5" r="1.7"/><circle cx="248.4" cy="90.0" r="1.7"/><circle cx="250.6" cy="86.5" r="1.7"/><circle cx="252.8" cy="86.5" r="1.7"/><circle cx="254.9" cy="86.5" r="1.7"/><circle cx="257.1" cy="83.0" r="1.7"/><circle cx="259.3" cy="86.5" r="1.7"/><circle cx="261.5" cy="90.0" r="1.7"/><circle cx="263.7" cy="86.5" r="1.7"/><circle cx="265.9" cy="83.0" r="1.7"/><circle cx="268.1" cy="83.0" r="1.7"/><circle cx="270.3" cy="79.5" r="1.7"/><circle cx="272.5" cy="79.5" r="1.7"/><circle cx="274.7" cy="83.0" r="1.7"/><circle cx="276.9" cy="86.5" r="1.7"/><circle cx="279.1" cy="86.5" r="1.7"/><circle cx="281.3" cy="86.5" r="1.7"/><circle cx="283.5" cy="83.0" r="1.7"/><circle cx="285.7" cy="83.0" r="1.7"/><circle cx="287.9" cy="83.0" r="1.7"/><circle cx="290.1" cy="83.0" r="1.7"/><circle cx="292.3" cy="86.5" r="1.7"/><circle cx="294.5" cy="86.5" r="1.7"/><circle cx="296.7" cy="86.5" r="1.7"/><circle cx="298.8" cy="86.5" r="1.7"/><circle cx="301.0" cy="86.5" r="1.7"/><circle cx="303.2" cy="86.5" r="1.7"/><circle cx="305.4" cy="90.0" r="1.7"/><circle cx="307.6" cy="93.5" r="1.7"/><circle cx="309.8" cy="93.5" r="1.7"/><circle cx="312.0" cy="90.0" r="1.7"/><circle cx="314.2" cy="86.5" r="1.7"/><circle cx="316.4" cy="90.0" r="1.7"/><circle cx="318.6" cy="93.5" r="1.7"/><circle cx="320.8" cy="96.9" r="1.7"/><circle cx="323.0" cy="103.9" r="1.7"/><circle cx="325.2" cy="103.9" r="1.7"/><circle cx="327.4" cy="110.9" r="1.7"/><circle cx="329.6" cy="107.4" r="1.7"/><circle cx="331.8" cy="110.9" r="1.7"/><circle cx="334.0" cy="110.9" r="1.7"/><circle cx="336.2" cy="117.9" r="1.7"/><circle cx="338.4" cy="117.9" r="1.7"/><circle cx="340.6" cy="110.9" r="1.7"/><circle cx="342.8" cy="114.4" r="1.7"/><circle cx="344.9" cy="114.4" r="1.7"/><circle cx="347.1" cy="110.9" r="1.7"/><circle cx="349.3" cy="110.9" r="1.7"/><circle cx="351.5" cy="114.4" r="1.7"/><circle cx="353.7" cy="110.9" r="1.7"/><circle cx="355.9" cy="107.4" r="1.7"/><circle cx="358.1" cy="107.4" r="1.7"/><circle cx="360.3" cy="110.9" r="1.7"/><circle cx="362.5" cy="110.9" r="1.7"/><circle cx="364.7" cy="110.9" r="1.7"/><circle cx="366.9" cy="107.4" r="1.7"/><circle cx="369.1" cy="103.9" r="1.7"/><circle cx="371.3" cy="103.9" r="1.7"/><circle cx="373.5" cy="103.9" r="1.7"/><circle cx="375.7" cy="110.9" r="1.7"/><circle cx="377.9" cy="110.9" r="1.7"/><circle cx="380.1" cy="107.4" r="1.7"/><circle cx="382.3" cy="103.9" r="1.7"/><circle cx="384.5" cy="107.4" r="1.7"/><circle cx="386.7" cy="107.4" r="1.7"/><circle cx="388.8" cy="110.9" r="1.7"/><circle cx="391.0" cy="117.9" r="1.7"/><circle cx="393.2" cy="117.9" r="1.7"/><circle cx="395.4" cy="117.9" r="1.7"/><circle cx="397.6" cy="121.3" r="1.7"/><circle cx="399.8" cy="121.3" r="1.7"/><circle cx="402.0" cy="124.8" r="1.7"/><circle cx="404.2" cy="131.8" r="1.7"/><circle cx="406.4" cy="128.3" r="1.7"/><circle cx="408.6" cy="128.3" r="1.7"/><circle cx="410.8" cy="124.8" r="1.7"/><circle cx="413.0" cy="128.3" r="1.7"/><circle cx="415.2" cy="128.3" r="1.7"/><circle cx="417.4" cy="128.3" r="1.7"/><circle cx="419.6" cy="124.8" r="1.7"/><circle cx="421.8" cy="121.3" r="1.7"/><circle cx="424.0" cy="121.3" r="1.7"/><circle cx="426.2" cy="121.3" r="1.7"/><circle cx="428.4" cy="128.3" r="1.7"/><circle cx="430.6" cy="135.3" r="1.7"/><circle cx="432.8" cy="131.8" r="1.7"/><circle cx="434.9" cy="131.8" r="1.7"/><circle cx="437.1" cy="128.3" r="1.7"/><circle cx="439.3" cy="128.3" r="1.7"/><circle cx="441.5" cy="124.8" r="1.7"/><circle cx="443.7" cy="124.8" r="1.7"/><circle cx="445.9" cy="128.3" r="1.7"/><circle cx="448.1" cy="131.8" r="1.7"/><circle cx="450.3" cy="135.3" r="1.7"/><circle cx="452.5" cy="138.8" r="1.7"/><circle cx="454.7" cy="138.8" r="1.7"/><circle cx="456.9" cy="135.3" r="1.7"/><circle cx="459.1" cy="128.3" r="1.7"/><circle cx="461.3" cy="121.3" r="1.7"/><circle cx="463.5" cy="117.9" r="1.7"/><circle cx="465.7" cy="121.3" r="1.7"/><circle cx="467.9" cy="117.9" r="1.7"/><circle cx="470.1" cy="121.3" r="1.7"/><circle cx="472.3" cy="117.9" r="1.7"/><circle cx="474.5" cy="117.9" r="1.7"/><circle cx="476.7" cy="124.8" r="1.7"/><circle cx="478.8" cy="121.3" r="1.7"/><circle cx="481.0" cy="121.3" r="1.7"/><circle cx="483.2" cy="124.8" r="1.7"/><circle cx="485.4" cy="128.3" r="1.7"/><circle cx="487.6" cy="124.8" r="1.7"/><circle cx="489.8" cy="121.3" r="1.7"/><circle cx="492.0" cy="124.8" r="1.7"/><circle cx="494.2" cy="124.8" r="1.7"/><circle cx="496.4" cy="124.8" r="1.7"/><circle cx="498.6" cy="121.3" r="1.7"/><circle cx="500.8" cy="124.8" r="1.7"/><circle cx="503.0" cy="124.8" r="1.7"/><circle cx="505.2" cy="121.3" r="1.7"/><circle cx="507.4" cy="121.3" r="1.7"/><circle cx="509.6" cy="121.3" r="1.7"/><circle cx="511.8" cy="121.3" r="1.7"/><circle cx="514.0" cy="121.3" r="1.7"/><circle cx="516.2" cy="121.3" r="1.7"/><circle cx="518.4" cy="124.8" r="1.7"/><circle cx="520.6" cy="121.3" r="1.7"/><circle cx="522.8" cy="121.3" r="1.7"/><circle cx="524.9" cy="121.3" r="1.7"/><circle cx="527.1" cy="121.3" r="1.7"/><circle cx="529.3" cy="121.3" r="1.7"/><circle cx="531.5" cy="124.8" r="1.7"/><circle cx="533.7" cy="124.8" r="1.7"/><circle cx="535.9" cy="121.3" r="1.7"/><circle cx="538.1" cy="124.8" r="1.7"/><circle cx="540.3" cy="124.8" r="1.7"/><circle cx="542.5" cy="124.8" r="1.7"/><circle cx="544.7" cy="124.8" r="1.7"/><circle cx="546.9" cy="121.3" r="1.7"/><circle cx="549.1" cy="121.3" r="1.7"/><circle cx="551.3" cy="121.3" r="1.7"/><circle cx="553.5" cy="121.3" r="1.7"/><circle cx="555.7" cy="124.8" r="1.7"/><circle cx="557.9" cy="121.3" r="1.7"/><circle cx="560.1" cy="117.9" r="1.7"/><circle cx="562.3" cy="121.3" r="1.7"/><circle cx="564.5" cy="138.8" r="1.7"/><circle cx="566.7" cy="152.7" r="1.7"/><circle cx="568.9" cy="184.1" r="1.7"/><circle cx="571.0" cy="166.7" r="1.7"/><circle cx="573.2" cy="156.2" r="1.7"/><circle cx="575.4" cy="152.7" r="1.7"/><circle cx="577.6" cy="149.2" r="1.7"/><circle cx="579.8" cy="156.2" r="1.7"/><circle cx="582.0" cy="184.1" r="1.7"/><circle cx="584.2" cy="166.7" r="1.7"/><circle cx="586.4" cy="159.7" r="1.7"/><circle cx="588.6" cy="152.7" r="1.7"/><circle cx="590.8" cy="149.2" r="1.7"/><circle cx="593.0" cy="149.2" r="1.7"/><circle cx="595.2" cy="187.6" r="1.7"/><circle cx="597.4" cy="170.2" r="1.7"/><circle cx="599.6" cy="159.7" r="1.7"/><circle cx="601.8" cy="152.7" r="1.7"/><circle cx="604.0" cy="149.2" r="1.7"/><circle cx="606.2" cy="149.2" r="1.7"/><circle cx="608.4" cy="173.6" r="1.7"/><circle cx="610.6" cy="177.1" r="1.7"/><circle cx="612.8" cy="163.2" r="1.7"/><circle cx="614.9" cy="156.2" r="1.7"/><circle cx="617.1" cy="152.7" r="1.7"/><circle cx="619.3" cy="149.2" r="1.7"/><circle cx="621.5" cy="156.2" r="1.7"/><circle cx="623.7" cy="184.1" r="1.7"/><circle cx="625.9" cy="166.7" r="1.7"/><circle cx="628.1" cy="159.7" r="1.7"/><circle cx="630.3" cy="152.7" r="1.7"/><circle cx="632.5" cy="149.2" r="1.7"/><circle cx="634.7" cy="149.2" r="1.7"/><circle cx="636.9" cy="184.1" r="1.7"/><circle cx="639.1" cy="173.6" r="1.7"/><circle cx="641.3" cy="163.2" r="1.7"/><circle cx="643.5" cy="152.7" r="1.7"/><circle cx="645.7" cy="149.2" r="1.7"/><circle cx="647.9" cy="149.2" r="1.7"/><circle cx="650.1" cy="166.7" r="1.7"/><circle cx="652.3" cy="180.6" r="1.7"/><circle cx="654.5" cy="166.7" r="1.7"/><circle cx="656.7" cy="156.2" r="1.7"/><circle cx="658.9" cy="152.7" r="1.7"/><circle cx="661.0" cy="149.2" r="1.7"/><circle cx="663.2" cy="149.2" r="1.7"/><circle cx="665.4" cy="187.6" r="1.7"/><circle cx="667.6" cy="170.2" r="1.7"/><circle cx="669.8" cy="159.7" r="1.7"/><circle cx="672.0" cy="152.7" r="1.7"/><circle cx="674.2" cy="149.2" r="1.7"/><circle cx="676.4" cy="149.2" r="1.7"/><circle cx="678.6" cy="173.6" r="1.7"/><circle cx="680.8" cy="180.6" r="1.7"/><circle cx="683.0" cy="166.7" r="1.7"/><circle cx="685.2" cy="156.2" r="1.7"/><circle cx="687.4" cy="152.7" r="1.7"/><circle cx="689.6" cy="149.2" r="1.7"/><circle cx="691.8" cy="152.7" r="1.7"/><circle cx="694.0" cy="191.1" r="1.7"/><circle cx="696.2" cy="170.2" r="1.7"/><circle cx="698.4" cy="159.7" r="1.7"/><circle cx="700.6" cy="152.7" r="1.7"/><circle cx="702.8" cy="149.2" r="1.7"/><circle cx="704.9" cy="149.2" r="1.7"/><circle cx="707.1" cy="166.7" r="1.7"/><circle cx="709.3" cy="180.6" r="1.7"/><circle cx="711.5" cy="166.7" r="1.7"/><circle cx="713.7" cy="156.2" r="1.7"/><circle cx="715.9" cy="152.7" r="1.7"/><circle cx="718.1" cy="149.2" r="1.7"/><circle cx="720.3" cy="149.2" r="1.7"/><circle cx="722.5" cy="184.1" r="1.7"/><circle cx="724.7" cy="173.6" r="1.7"/></g>
<polyline points="94.7,275.0 96.9,281.0 99.1,270.4 101.3,293.0 103.5,307.7 105.7,319.5 107.9,357.5 110.1,355.0 112.3,276.4 114.5,255.0 116.7,283.0 118.8,246.7 121.0,238.0 123.2,235.7 125.4,237.0 127.6,244.0 129.8,252.2 132.0,243.0 134.2,229.5 136.4,219.5 138.6,213.0 140.8,205.0 143.0,201.6 145.2,202.4 147.4,203.6 149.6,199.4 151.8,202.4 154.0,212.7 156.2,222.5 158.4,227.0 160.6,230.5 162.7,230.0 164.9,224.0 167.1,210.0 169.3,197.0 171.5,201.6 173.7,206.0 175.9,209.4 178.1,211.5 180.3,205.6 182.5,198.4 184.7,195.0 186.9,193.6 189.1,191.7 191.3,182.2 193.5,178.8 195.7,177.6 197.9,170.8 200.1,174.6 202.3,161.7 204.5,129.4 206.7,127.0 208.8,140.0 211.0,146.0 213.2,98.2 215.4,81.7 217.6,46.6 219.8,36.6 222.0,66.7 224.2,81.7 226.4,89.1 228.6,85.1 230.8,73.7 233.0,97.8 235.2,115.7 237.4,127.0 239.6,139.5 241.8,141.0 244.0,141.5 246.2,140.7 248.4,132.0 250.6,127.6 252.8,121.4 254.9,121.0 257.1,120.0 259.3,129.6 261.5,132.0 263.7,125.6 265.9,125.6 268.1,119.4 270.3,121.0 272.5,127.6 274.7,131.4 276.9,133.6 279.1,145.5 281.3,145.0 283.5,147.5 285.7,117.6 287.9,83.7 290.1,42.0 292.3,86.7 294.5,125.6 296.7,153.0 298.8,173.0 301.0,159.0 303.2,142.0 305.4,168.7 307.6,167.0 309.8,181.0 312.0,155.7 314.2,76.5 316.4,75.7 318.6,104.8 320.8,130.6 323.0,181.0 325.2,192.6 327.4,235.7 329.6,227.0 331.8,285.0 334.0,199.6 336.2,201.0 338.4,214.6 340.6,207.6 342.8,195.0 344.9,190.4 347.1,186.2 349.3,174.2 351.5,180.2 353.7,167.7 355.9,172.8 358.1,187.2 360.3,194.6 362.5,209.0 364.7,199.6 366.9,194.0 369.1,202.4 371.3,218.5 373.5,223.0 375.7,229.0 377.9,243.5 380.1,236.5 382.3,236.0 384.5,258.9 386.7,255.5 388.8,259.5 391.0,271.5 393.2,279.7 395.4,281.0 397.6,289.7 399.8,294.0 402.0,298.7 404.2,307.0 406.4,307.7 408.6,307.0 410.8,307.7 413.0,308.5 415.2,310.0 417.4,309.7 419.6,307.0 421.8,299.0 424.0,299.7 426.2,297.5 428.4,305.0 430.6,309.7 432.8,314.5 434.9,312.0 437.1,310.5 439.3,308.0 441.5,307.0 443.7,304.0 445.9,310.0 448.1,315.0 450.3,321.8 452.5,325.6 454.7,326.0 456.9,325.0 459.1,319.6 461.3,297.0 463.5,286.0 465.7,293.0 467.9,289.5 470.1,294.5 472.3,292.5 474.5,290.7 476.7,300.0 478.8,299.7 481.0,299.0 483.2,305.0 485.4,302.0 487.6,300.0 489.8,293.0 492.0,302.7 494.2,298.0 496.4,301.5 498.6,299.0 500.8,300.5 503.0,304.5 505.2,303.0 507.4,298.0 509.6,298.5 511.8,298.0 514.0,299.5 516.2,304.7 518.4,301.7 520.6,299.7 522.8,298.5 524.9,299.0 527.1,298.7 529.3,302.7 531.5,304.0 533.7,305.0 535.9,304.5 538.1,306.7 540.3,304.5 542.5,305.0 544.7,304.7 546.9,303.0 549.1,304.7 551.3,304.0 553.5,303.7 555.7,305.5 557.9,304.0 560.1,303.5 562.3,306.5 564.5,326.0 566.7,353.5 568.9,358.0 571.0,355.7 573.2,350.5 575.4,352.0 577.6,354.5 579.8,355.0 582.0,357.5 584.2,357.7 586.4,357.0 588.6,356.5 590.8,356.0 593.0,357.5 595.2,361.7 597.4,359.0 599.6,357.7 601.8,357.7 604.0,357.7 606.2,358.0 608.4,358.5 610.6,362.0 612.8,358.7 614.9,359.5 617.1,358.7 619.3,359.5 621.5,360.5 623.7,361.7 625.9,361.0 628.1,360.5 630.3,360.0 632.5,360.5 634.7,361.0 636.9,362.0 639.1,363.0 641.3,362.0 643.5,361.5 645.7,361.5 647.9,361.7 650.1,363.0 652.3,364.5 654.5,363.5 656.7,362.5 658.9,362.0 661.0,361.5 663.2,359.7 665.4,364.5 667.6,363.7 669.8,363.0 672.0,362.8 674.2,362.7 676.4,362.8 678.6,363.0 680.8,365.0 683.0,364.0 685.2,363.0 687.4,362.7 689.6,362.5 691.8,363.5 694.0,364.7 696.2,364.3 698.4,364.0 700.6,363.2 702.8,362.5 704.9,362.7 707.1,364.0 709.3,365.5 711.5,364.5 713.7,363.5 715.9,362.5 718.1,362.0 720.3,363.0 722.5,364.0 724.7,364.7" fill="none" stroke="#ff0000" stroke-width="1.1" stroke-linejoin="round"/>
<g fill="#ff0000"><circle cx="94.7" cy="275.0" r="1.6"/><circle cx="96.9" cy="281.0" r="1.6"/><circle cx="99.1" cy="270.4" r="1.6"/><circle cx="101.3" cy="293.0" r="1.6"/><circle cx="103.5" cy="307.7" r="1.6"/><circle cx="105.7" cy="319.5" r="1.6"/><circle cx="107.9" cy="357.5" r="1.6"/><circle cx="110.1" cy="355.0" r="1.6"/><circle cx="112.3" cy="276.4" r="1.6"/><circle cx="114.5" cy="255.0" r="1.6"/><circle cx="116.7" cy="283.0" r="1.6"/><circle cx="118.8" cy="246.7" r="1.6"/><circle cx="121.0" cy="238.0" r="1.6"/><circle cx="123.2" cy="235.7" r="1.6"/><circle cx="125.4" cy="237.0" r="1.6"/><circle cx="127.6" cy="244.0" r="1.6"/><circle cx="129.8" cy="252.2" r="1.6"/><circle cx="132.0" cy="243.0" r="1.6"/><circle cx="134.2" cy="229.5" r="1.6"/><circle cx="136.4" cy="219.5" r="1.6"/><circle cx="138.6" cy="213.0" r="1.6"/><circle cx="140.8" cy="205.0" r="1.6"/><circle cx="143.0" cy="201.6" r="1.6"/><circle cx="145.2" cy="202.4" r="1.6"/><circle cx="147.4" cy="203.6" r="1.6"/><circle cx="149.6" cy="199.4" r="1.6"/><circle cx="151.8" cy="202.4" r="1.6"/><circle cx="154.0" cy="212.7" r="1.6"/><circle cx="156.2" cy="222.5" r="1.6"/><circle cx="158.4" cy="227.0" r="1.6"/><circle cx="160.6" cy="230.5" r="1.6"/><circle cx="162.7" cy="230.0" r="1.6"/><circle cx="164.9" cy="224.0" r="1.6"/><circle cx="167.1" cy="210.0" r="1.6"/><circle cx="169.3" cy="197.0" r="1.6"/><circle cx="171.5" cy="201.6" r="1.6"/><circle cx="173.7" cy="206.0" r="1.6"/><circle cx="175.9" cy="209.4" r="1.6"/><circle cx="178.1" cy="211.5" r="1.6"/><circle cx="180.3" cy="205.6" r="1.6"/><circle cx="182.5" cy="198.4" r="1.6"/><circle cx="184.7" cy="195.0" r="1.6"/><circle cx="186.9" cy="193.6" r="1.6"/><circle cx="189.1" cy="191.7" r="1.6"/><circle cx="191.3" cy="182.2" r="1.6"/><circle cx="193.5" cy="178.8" r="1.6"/><circle cx="195.7" cy="177.6" r="1.6"/><circle cx="197.9" cy="170.8" r="1.6"/><circle cx="200.1" cy="174.6" r="1.6"/><circle cx="202.3" cy="161.7" r="1.6"/><circle cx="204.5" cy="129.4" r="1.6"/><circle cx="206.7" cy="127.0" r="1.6"/><circle cx="208.8" cy="140.0" r="1.6"/><circle cx="211.0" cy="146.0" r="1.6"/><circle cx="213.2" cy="98.2" r="1.6"/><circle cx="215.4" cy="81.7" r="1.6"/><circle cx="217.6" cy="46.6" r="1.6"/><circle cx="219.8" cy="36.6" r="1.6"/><circle cx="222.0" cy="66.7" r="1.6"/><circle cx="224.2" cy="81.7" r="1.6"/><circle cx="226.4" cy="89.1" r="1.6"/><circle cx="228.6" cy="85.1" r="1.6"/><circle cx="230.8" cy="73.7" r="1.6"/><circle cx="233.0" cy="97.8" r="1.6"/><circle cx="235.2" cy="115.7" r="1.6"/><circle cx="237.4" cy="127.0" r="1.6"/><circle cx="239.6" cy="139.5" r="1.6"/><circle cx="241.8" cy="141.0" r="1.6"/><circle cx="244.0" cy="141.5" r="1.6"/><circle cx="246.2" cy="140.7" r="1.6"/><circle cx="248.4" cy="132.0" r="1.6"/><circle cx="250.6" cy="127.6" r="1.6"/><circle cx="252.8" cy="121.4" r="1.6"/><circle cx="254.9" cy="121.0" r="1.6"/><circle cx="257.1" cy="120.0" r="1.6"/><circle cx="259.3" cy="129.6" r="1.6"/><circle cx="261.5" cy="132.0" r="1.6"/><circle cx="263.7" cy="125.6" r="1.6"/><circle cx="265.9" cy="125.6" r="1.6"/><circle cx="268.1" cy="119.4" r="1.6"/><circle cx="270.3" cy="121.0" r="1.6"/><circle cx="272.5" cy="127.6" r="1.6"/><circle cx="274.7" cy="131.4" r="1.6"/><circle cx="276.9" cy="133.6" r="1.6"/><circle cx="279.1" cy="145.5" r="1.6"/><circle cx="281.3" cy="145.0" r="1.6"/><circle cx="283.5" cy="147.5" r="1.6"/><circle cx="285.7" cy="117.6" r="1.6"/><circle cx="287.9" cy="83.7" r="1.6"/><circle cx="290.1" cy="42.0" r="1.6"/><circle cx="292.3" cy="86.7" r="1.6"/><circle cx="294.5" cy="125.6" r="1.6"/><circle cx="296.7" cy="153.0" r="1.6"/><circle cx="298.8" cy="173.0" r="1.6"/><circle cx="301.0" cy="159.0" r="1.6"/><circle cx="303.2" cy="142.0" r="1.6"/><circle cx="305.4" cy="168.7" r="1.6"/><circle cx="307.6" cy="167.0" r="1.6"/><circle cx="309.8" cy="181.0" r="1.6"/><circle cx="312.0" cy="155.7" r="1.6"/><circle cx="314.2" cy="76.5" r="1.6"/><circle cx="316.4" cy="75.7" r="1.6"/><circle cx="318.6" cy="104.8" r="1.6"/><circle cx="320.8" cy="130.6" r="1.6"/><circle cx="323.0" cy="181.0" r="1.6"/><circle cx="325.2" cy="192.6" r="1.6"/><circle cx="327.4" cy="235.7" r="1.6"/><circle cx="329.6" cy="227.0" r="1.6"/><circle cx="331.8" cy="285.0" r="1.6"/><circle cx="334.0" cy="199.6" r="1.6"/><circle cx="336.2" cy="201.0" r="1.6"/><circle cx="338.4" cy="214.6" r="1.6"/><circle cx="340.6" cy="207.6" r="1.6"/><circle cx="342.8" cy="195.0" r="1.6"/><circle cx="344.9" cy="190.4" r="1.6"/><circle cx="347.1" cy="186.2" r="1.6"/><circle cx="349.3" cy="174.2" r="1.6"/><circle cx="351.5" cy="180.2" r="1.6"/><circle cx="353.7" cy="167.7" r="1.6"/><circle cx="355.9" cy="172.8" r="1.6"/><circle cx="358.1" cy="187.2" r="1.6"/><circle cx="360.3" cy="194.6" r="1.6"/><circle cx="362.5" cy="209.0" r="1.6"/><circle cx="364.7" cy="199.6" r="1.6"/><circle cx="366.9" cy="194.0" r="1.6"/><circle cx="369.1" cy="202.4" r="1.6"/><circle cx="371.3" cy="218.5" r="1.6"/><circle cx="373.5" cy="223.0" r="1.6"/><circle cx="375.7" cy="229.0" r="1.6"/><circle cx="377.9" cy="243.5" r="1.6"/><circle cx="380.1" cy="236.5" r="1.6"/><circle cx="382.3" cy="236.0" r="1.6"/><circle cx="384.5" cy="258.9" r="1.6"/><circle cx="386.7" cy="255.5" r="1.6"/><circle cx="388.8" cy="259.5" r="1.6"/><circle cx="391.0" cy="271.5" r="1.6"/><circle cx="393.2" cy="279.7" r="1.6"/><circle cx="395.4" cy="281.0" r="1.6"/><circle cx="397.6" cy="289.7" r="1.6"/><circle cx="399.8" cy="294.0" r="1.6"/><circle cx="402.0" cy="298.7" r="1.6"/><circle cx="404.2" cy="307.0" r="1.6"/><circle cx="406.4" cy="307.7" r="1.6"/><circle cx="408.6" cy="307.0" r="1.6"/><circle cx="410.8" cy="307.7" r="1.6"/><circle cx="413.0" cy="308.5" r="1.6"/><circle cx="415.2" cy="310.0" r="1.6"/><circle cx="417.4" cy="309.7" r="1.6"/><circle cx="419.6" cy="307.0" r="1.6"/><circle cx="421.8" cy="299.0" r="1.6"/><circle cx="424.0" cy="299.7" r="1.6"/><circle cx="426.2" cy="297.5" r="1.6"/><circle cx="428.4" cy="305.0" r="1.6"/><circle cx="430.6" cy="309.7" r="1.6"/><circle cx="432.8" cy="314.5" r="1.6"/><circle cx="434.9" cy="312.0" r="1.6"/><circle cx="437.1" cy="310.5" r="1.6"/><circle cx="439.3" cy="308.0" r="1.6"/><circle cx="441.5" cy="307.0" r="1.6"/><circle cx="443.7" cy="304.0" r="1.6"/><circle cx="445.9" cy="310.0" r="1.6"/><circle cx="448.1" cy="315.0" r="1.6"/><circle cx="450.3" cy="321.8" r="1.6"/><circle cx="452.5" cy="325.6" r="1.6"/><circle cx="454.7" cy="326.0" r="1.6"/><circle cx="456.9" cy="325.0" r="1.6"/><circle cx="459.1" cy="319.6" r="1.6"/><circle cx="461.3" cy="297.0" r="1.6"/><circle cx="463.5" cy="286.0" r="1.6"/><circle cx="465.7" cy="293.0" r="1.6"/><circle cx="467.9" cy="289.5" r="1.6"/><circle cx="470.1" cy="294.5" r="1.6"/><circle cx="472.3" cy="292.5" r="1.6"/><circle cx="474.5" cy="290.7" r="1.6"/><circle cx="476.7" cy="300.0" r="1.6"/><circle cx="478.8" cy="299.7" r="1.6"/><circle cx="481.0" cy="299.0" r="1.6"/><circle cx="483.2" cy="305.0" r="1.6"/><circle cx="485.4" cy="302.0" r="1.6"/><circle cx="487.6" cy="300.0" r="1.6"/><circle cx="489.8" cy="293.0" r="1.6"/><circle cx="492.0" cy="302.7" r="1.6"/><circle cx="494.2" cy="298.0" r="1.6"/><circle cx="496.4" cy="301.5" r="1.6"/><circle cx="498.6" cy="299.0" r="1.6"/><circle cx="500.8" cy="300.5" r="1.6"/><circle cx="503.0" cy="304.5" r="1.6"/><circle cx="505.2" cy="303.0" r="1.6"/><circle cx="507.4" cy="298.0" r="1.6"/><circle cx="509.6" cy="298.5" r="1.6"/><circle cx="511.8" cy="298.0" r="1.6"/><circle cx="514.0" cy="299.5" r="1.6"/><circle cx="516.2" cy="304.7" r="1.6"/><circle cx="518.4" cy="301.7" r="1.6"/><circle cx="520.6" cy="299.7" r="1.6"/><circle cx="522.8" cy="298.5" r="1.6"/><circle cx="524.9" cy="299.0" r="1.6"/><circle cx="527.1" cy="298.7" r="1.6"/><circle cx="529.3" cy="302.7" r="1.6"/><circle cx="531.5" cy="304.0" r="1.6"/><circle cx="533.7" cy="305.0" r="1.6"/><circle cx="535.9" cy="304.5" r="1.6"/><circle cx="538.1" cy="306.7" r="1.6"/><circle cx="540.3" cy="304.5" r="1.6"/><circle cx="542.5" cy="305.0" r="1.6"/><circle cx="544.7" cy="304.7" r="1.6"/><circle cx="546.9" cy="303.0" r="1.6"/><circle cx="549.1" cy="304.7" r="1.6"/><circle cx="551.3" cy="304.0" r="1.6"/><circle cx="553.5" cy="303.7" r="1.6"/><circle cx="555.7" cy="305.5" r="1.6"/><circle cx="557.9" cy="304.0" r="1.6"/><circle cx="560.1" cy="303.5" r="1.6"/><circle cx="562.3" cy="306.5" r="1.6"/><circle cx="564.5" cy="326.0" r="1.6"/><circle cx="566.7" cy="353.5" r="1.6"/><circle cx="568.9" cy="358.0" r="1.6"/><circle cx="571.0" cy="355.7" r="1.6"/><circle cx="573.2" cy="350.5" r="1.6"/><circle cx="575.4" cy="352.0" r="1.6"/><circle cx="577.6" cy="354.5" r="1.6"/><circle cx="579.8" cy="355.0" r="1.6"/><circle cx="582.0" cy="357.5" r="1.6"/><circle cx="584.2" cy="357.7" r="1.6"/><circle cx="586.4" cy="357.0" r="1.6"/><circle cx="588.6" cy="356.5" r="1.6"/><circle cx="590.8" cy="356.0" r="1.6"/><circle cx="593.0" cy="357.5" r="1.6"/><circle cx="595.2" cy="361.7" r="1.6"/><circle cx="597.4" cy="359.0" r="1.6"/><circle cx="599.6" cy="357.7" r="1.6"/><circle cx="601.8" cy="357.7" r="1.6"/><circle cx="604.0" cy="357.7" r="1.6"/><circle cx="606.2" cy="358.0" r="1.6"/><circle cx="608.4" cy="358.5" r="1.6"/><circle cx="610.6" cy="362.0" r="1.6"/><circle cx="612.8" cy="358.7" r="1.6"/><circle cx="614.9" cy="359.5" r="1.6"/><circle cx="617.1" cy="358.7" r="1.6"/><circle cx="619.3" cy="359.5" r="1.6"/><circle cx="621.5" cy="360.5" r="1.6"/><circle cx="623.7" cy="361.7" r="1.6"/><circle cx="625.9" cy="361.0" r="1.6"/><circle cx="628.1" cy="360.5" r="1.6"/><circle cx="630.3" cy="360.0" r="1.6"/><circle cx="632.5" cy="360.5" r="1.6"/><circle cx="634.7" cy="361.0" r="1.6"/><circle cx="636.9" cy="362.0" r="1.6"/><circle cx="639.1" cy="363.0" r="1.6"/><circle cx="641.3" cy="362.0" r="1.6"/><circle cx="643.5" cy="361.5" r="1.6"/><circle cx="645.7" cy="361.5" r="1.6"/><circle cx="647.9" cy="361.7" r="1.6"/><circle cx="650.1" cy="363.0" r="1.6"/><circle cx="652.3" cy="364.5" r="1.6"/><circle cx="654.5" cy="363.5" r="1.6"/><circle cx="656.7" cy="362.5" r="1.6"/><circle cx="658.9" cy="362.0" r="1.6"/><circle cx="661.0" cy="361.5" r="1.6"/><circle cx="663.2" cy="359.7" r="1.6"/><circle cx="665.4" cy="364.5" r="1.6"/><circle cx="667.6" cy="363.7" r="1.6"/><circle cx="669.8" cy="363.0" r="1.6"/><circle cx="672.0" cy="362.8" r="1.6"/><circle cx="674.2" cy="362.7" r="1.6"/><circle cx="676.4" cy="362.8" r="1.6"/><circle cx="678.6" cy="363.0" r="1.6"/><circle cx="680.8" cy="365.0" r="1.6"/><circle cx="683.0" cy="364.0" r="1.6"/><circle cx="685.2" cy="363.0" r="1.6"/><circle cx="687.4" cy="362.7" r="1.6"/><circle cx="689.6" cy="362.5" r="1.6"/><circle cx="691.8" cy="363.5" r="1.6"/><circle cx="694.0" cy="364.7" r="1.6"/><circle cx="696.2" cy="364.3" r="1.6"/><circle cx="698.4" cy="364.0" r="1.6"/><circle cx="700.6" cy="363.2" r="1.6"/><circle cx="702.8" cy="362.5" r="1.6"/><circle cx="704.9" cy="362.7" r="1.6"/><circle cx="707.1" cy="364.0" r="1.6"/><circle cx="709.3" cy="365.5" r="1.6"/><circle cx="711.5" cy="364.5" r="1.6"/><circle cx="713.7" cy="363.5" r="1.6"/><circle cx="715.9" cy="362.5" r="1.6"/><circle cx="718.1" cy="362.0" r="1.6"/><circle cx="720.3" cy="363.0" r="1.6"/><circle cx="722.5" cy="364.0" r="1.6"/><circle cx="724.7" cy="364.7" r="1.6"/></g>
<g text-rendering="geometricPrecision" font-family="'Liberation Sans', sans-serif"><text x="20.30" y="390.15" fill="#cecc84" font-size="16.9" text-anchor="middle" font-weight="normal" textLength="26.4" lengthAdjust="spacingAndGlyphs" stroke="#cecc84" stroke-width="0.8" xml:space="preserve">980</text><text x="69.90" y="390.15" fill="#ff0000" font-size="16.9" text-anchor="middle" font-weight="bold" textLength="30.8" lengthAdjust="spacingAndGlyphs" stroke="#ff0000" stroke-width="0.3" xml:space="preserve">0.00</text><text x="750.00" y="390.15" fill="#0000ff" font-size="16.9" text-anchor="middle" font-weight="bold" textLength="8.8" lengthAdjust="spacingAndGlyphs" stroke="#0000ff" stroke-width="0.3" xml:space="preserve">0</text><text x="788.40" y="390.15" fill="#c6c6c6" font-size="16.9" text-anchor="middle" font-weight="normal" textLength="17.3" lengthAdjust="spacingAndGlyphs" stroke="#c6c6c6" stroke-width="0.8" xml:space="preserve">10</text><text x="20.30" y="320.41" fill="#cecc84" font-size="16.9" text-anchor="middle" font-weight="normal" textLength="26.4" lengthAdjust="spacingAndGlyphs" stroke="#cecc84" stroke-width="0.8" xml:space="preserve">990</text><text x="69.90" y="320.41" fill="#ff0000" font-size="16.9" text-anchor="middle" font-weight="bold" textLength="30.8" lengthAdjust="spacingAndGlyphs" stroke="#ff0000" stroke-width="0.3" xml:space="preserve">0.08</text><text x="750.00" y="320.41" fill="#0000ff" font-size="16.9" text-anchor="middle" font-weight="bold" textLength="17.8" lengthAdjust="spacingAndGlyphs" stroke="#0000ff" stroke-width="0.3" xml:space="preserve">20</text><text x="788.40" y="320.41" fill="#c6c6c6" font-size="16.9" text-anchor="middle" font-weight="normal" textLength="17.3" lengthAdjust="spacingAndGlyphs" stroke="#c6c6c6" stroke-width="0.8" xml:space="preserve">15</text><text x="20.30" y="250.67" fill="#cecc84" font-size="16.9" text-anchor="middle" font-weight="normal" textLength="34.9" lengthAdjust="spacingAndGlyphs" stroke="#cecc84" stroke-width="0.8" xml:space="preserve">1000</text><text x="69.90" y="250.67" fill="#ff0000" font-size="16.9" text-anchor="middle" font-weight="bold" textLength="30.8" lengthAdjust="spacingAndGlyphs" stroke="#ff0000" stroke-width="0.3" xml:space="preserve">0.16</text><text x="750.00" y="250.67" fill="#0000ff" font-size="16.9" text-anchor="middle" font-weight="bold" textLength="17.8" lengthAdjust="spacingAndGlyphs" stroke="#0000ff" stroke-width="0.3" xml:space="preserve">40</text><text x="788.40" y="250.67" fill="#c6c6c6" font-size="16.9" text-anchor="middle" font-weight="normal" textLength="17.3" lengthAdjust="spacingAndGlyphs" stroke="#c6c6c6" stroke-width="0.8" xml:space="preserve">20</text><text x="20.30" y="180.93" fill="#cecc84" font-size="16.9" text-anchor="middle" font-weight="normal" textLength="34.9" lengthAdjust="spacingAndGlyphs" stroke="#cecc84" stroke-width="0.8" xml:space="preserve">1010</text><text x="69.90" y="180.93" fill="#ff0000" font-size="16.9" text-anchor="middle" font-weight="bold" textLength="30.8" lengthAdjust="spacingAndGlyphs" stroke="#ff0000" stroke-width="0.3" xml:space="preserve">0.24</text><text x="750.00" y="180.93" fill="#0000ff" font-size="16.9" text-anchor="middle" font-weight="bold" textLength="17.8" lengthAdjust="spacingAndGlyphs" stroke="#0000ff" stroke-width="0.3" xml:space="preserve">60</text><text x="788.40" y="180.93" fill="#c6c6c6" font-size="16.9" text-anchor="middle" font-weight="normal" textLength="17.3" lengthAdjust="spacingAndGlyphs" stroke="#c6c6c6" stroke-width="0.8" xml:space="preserve">25</text><text x="20.30" y="111.19" fill="#cecc84" font-size="16.9" text-anchor="middle" font-weight="normal" textLength="34.9" lengthAdjust="spacingAndGlyphs" stroke="#cecc84" stroke-width="0.8" xml:space="preserve">1020</text><text x="69.90" y="111.19" fill="#ff0000" font-size="16.9" text-anchor="middle" font-weight="bold" textLength="30.8" lengthAdjust="spacingAndGlyphs" stroke="#ff0000" stroke-width="0.3" xml:space="preserve">0.32</text><text x="750.00" y="111.19" fill="#0000ff" font-size="16.9" text-anchor="middle" font-weight="bold" textLength="17.8" lengthAdjust="spacingAndGlyphs" stroke="#0000ff" stroke-width="0.3" xml:space="preserve">80</text><text x="788.40" y="111.19" fill="#c6c6c6" font-size="16.9" text-anchor="middle" font-weight="normal" textLength="17.3" lengthAdjust="spacingAndGlyphs" stroke="#c6c6c6" stroke-width="0.8" xml:space="preserve">30</text><text x="20.30" y="41.45" fill="#cecc84" font-size="16.9" text-anchor="middle" font-weight="normal" textLength="34.9" lengthAdjust="spacingAndGlyphs" stroke="#cecc84" stroke-width="0.8" xml:space="preserve">1030</text><text x="69.90" y="41.45" fill="#ff0000" font-size="16.9" text-anchor="middle" font-weight="bold" textLength="30.8" lengthAdjust="spacingAndGlyphs" stroke="#ff0000" stroke-width="0.3" xml:space="preserve">0.40</text><text x="750.00" y="41.45" fill="#0000ff" font-size="16.9" text-anchor="middle" font-weight="bold" textLength="26.2" lengthAdjust="spacingAndGlyphs" stroke="#0000ff" stroke-width="0.3" xml:space="preserve">100</text><text x="788.40" y="41.45" fill="#c6c6c6" font-size="16.9" text-anchor="middle" font-weight="normal" textLength="17.3" lengthAdjust="spacingAndGlyphs" stroke="#c6c6c6" stroke-width="0.8" xml:space="preserve">35</text><text x="94.70" y="408.90" fill="#000" font-size="19.2" text-anchor="middle" font-weight="bold" textLength="44.6" lengthAdjust="spacingAndGlyphs" stroke="#000" stroke-width="0.25" xml:space="preserve">00:00</text><text x="173.72" y="408.90" fill="#000" font-size="19.2" text-anchor="middle" font-weight="bold" textLength="44.6" lengthAdjust="spacingAndGlyphs" stroke="#000" stroke-width="0.25" xml:space="preserve">03:00</text><text x="252.75" y="408.90" fill="#000" font-size="19.2" text-anchor="middle" font-weight="bold" textLength="44.6" lengthAdjust="spacingAndGlyphs" stroke="#000" stroke-width="0.25" xml:space="preserve">06:00</text><text x="331.77" y="408.90" fill="#000" font-size="19.2" text-anchor="middle" font-weight="bold" textLength="44.6" lengthAdjust="spacingAndGlyphs" stroke="#000" stroke-width="0.25" xml:space="preserve">09:00</text><text x="410.80" y="408.90" fill="#000" font-size="19.2" text-anchor="middle" font-weight="bold" textLength="44.6" lengthAdjust="spacingAndGlyphs" stroke="#000" stroke-width="0.25" xml:space="preserve">12:00</text><text x="489.82" y="408.90" fill="#000" font-size="19.2" text-anchor="middle" font-weight="bold" textLength="44.6" lengthAdjust="spacingAndGlyphs" stroke="#000" stroke-width="0.25" xml:space="preserve">15:00</text><text x="568.85" y="408.90" fill="#000" font-size="19.2" text-anchor="middle" font-weight="bold" textLength="44.6" lengthAdjust="spacingAndGlyphs" stroke="#000" stroke-width="0.25" xml:space="preserve">18:00</text><text x="647.88" y="408.90" fill="#000" font-size="19.2" text-anchor="middle" font-weight="bold" textLength="44.6" lengthAdjust="spacingAndGlyphs" stroke="#000" stroke-width="0.25" xml:space="preserve">21:00</text><text x="726.90" y="408.90" fill="#000" font-size="19.2" text-anchor="middle" font-weight="bold" textLength="44.6" lengthAdjust="spacingAndGlyphs" stroke="#000" stroke-width="0.25" xml:space="preserve">00:00</text><text x="415.50" y="427.60" fill="#000" font-size="18.7" text-anchor="middle" font-weight="bold" textLength="88.6" lengthAdjust="spacingAndGlyphs" stroke="#000" stroke-width="0.3" xml:space="preserve">Time (JST)</text><text x="682.30" y="428.10" fill="#000" font-size="18.6" text-anchor="middle" font-weight="bold" textLength="88.6" lengthAdjust="spacingAndGlyphs" stroke="#000" stroke-width="0.3" xml:space="preserve">2010-09-22</text><text x="93.80" y="22.60" fill="#ff0000" font-size="18.2" text-anchor="start" font-weight="bold" textLength="196.0" lengthAdjust="spacingAndGlyphs" stroke="#ff0000" stroke-width="0.15" xml:space="preserve">Scattering Coefficient (km</text><text x="289.70" y="14.90" fill="#ff0000" font-size="11" text-anchor="start" font-weight="bold" textLength="8.0" lengthAdjust="spacingAndGlyphs" stroke="#ff0000" stroke-width="0.2" xml:space="preserve">-1</text><text x="298.00" y="22.60" fill="#ff0000" font-size="18.2" text-anchor="start" font-weight="bold" textLength="5.3" lengthAdjust="spacingAndGlyphs" stroke="#ff0000" stroke-width="0.15" xml:space="preserve">)</text><text x="319.90" y="22.60" fill="#0000ff" font-size="18.2" text-anchor="start" font-weight="bold" textLength="156.8" lengthAdjust="spacingAndGlyphs" stroke="#0000ff" stroke-width="0.15" xml:space="preserve">Relative Humidity(%)</text><text x="493.70" y="22.60" fill="#cecc84" font-size="18.2" text-anchor="start" font-weight="bold" textLength="112.0" lengthAdjust="spacingAndGlyphs" stroke="#cecc84" stroke-width="0.15" xml:space="preserve">Pressure (hPa)</text><text x="623.00" y="22.60" fill="#c6c6c6" font-size="18.2" text-anchor="start" font-weight="bold" textLength="103.6" lengthAdjust="spacingAndGlyphs" stroke="#c6c6c6" stroke-width="0.15" xml:space="preserve">Temperature (</text><text x="730.20" y="22.60" fill="#c6c6c6" font-size="18.2" text-anchor="start" font-weight="bold" textLength="16.4" lengthAdjust="spacingAndGlyphs" stroke="#c6c6c6" stroke-width="0.15" xml:space="preserve">C)</text><rect x="81.2" y="17.3" width="7.5" height="2.0" fill="#ff0000"/><rect x="307.0" y="17.3" width="7.5" height="2.0" fill="#0000ff"/><rect x="481.6" y="17.3" width="7.5" height="2.0" fill="#cecc84"/><rect x="610.0" y="17.3" width="7.5" height="2.0" fill="#c6c6c6"/><circle cx="728.3" cy="4.6" r="1.5" fill="none" stroke="#c6c6c6" stroke-width="0.8"/></g>
</svg>
</body></html>
